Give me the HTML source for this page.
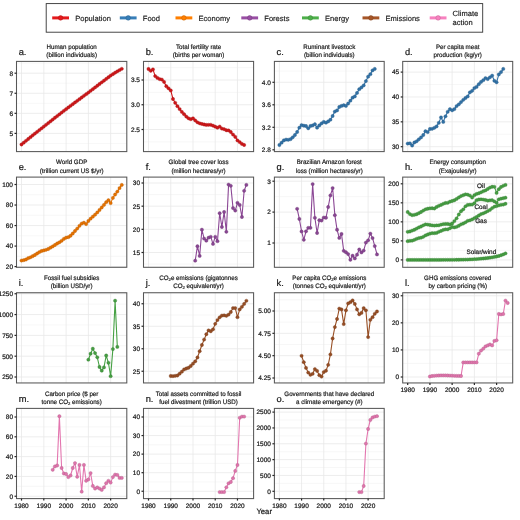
<!DOCTYPE html>
<html><head><meta charset="utf-8"><style>
html,body{margin:0;padding:0;background:#fff;width:520px;height:520px;overflow:hidden}
svg{display:block;will-change:transform}
text{font-family:"Liberation Sans", sans-serif;text-rendering:geometricPrecision;stroke:#1a1a1a;stroke-width:0.22px}
</style></head><body>
<svg width="520" height="520" viewBox="0 0 520 520" font-family='"Liberation Sans", sans-serif'>
<rect width="520" height="520" fill="#fff"/>
<rect x="46.2" y="3.6" width="436.5" height="28.6" fill="#fff" stroke="#333" stroke-width="0.9"/>
<line x1="52.2" y1="17.9" x2="69.0" y2="17.9" stroke="#E41A1C" stroke-width="3.0"/>
<circle cx="60.6" cy="17.9" r="2.3" fill="#E41A1C" stroke="#b11415" stroke-width="0.5"/>
<text x="75.2" y="20.7" font-size="7.55" fill="#1a1a1a" style="stroke-width:0.16px">Population</text>
<line x1="119.8" y1="17.9" x2="136.6" y2="17.9" stroke="#377EB8" stroke-width="3.0"/>
<circle cx="128.2" cy="17.9" r="2.3" fill="#377EB8" stroke="#2a628f" stroke-width="0.5"/>
<text x="142.8" y="20.7" font-size="7.55" fill="#1a1a1a" style="stroke-width:0.16px">Food</text>
<line x1="175.5" y1="17.9" x2="192.3" y2="17.9" stroke="#FF7F00" stroke-width="3.0"/>
<circle cx="183.9" cy="17.9" r="2.3" fill="#FF7F00" stroke="#c66300" stroke-width="0.5"/>
<text x="198.5" y="20.7" font-size="7.55" fill="#1a1a1a" style="stroke-width:0.16px">Economy</text>
<line x1="241.3" y1="17.9" x2="258.1" y2="17.9" stroke="#984EA3" stroke-width="3.0"/>
<circle cx="249.7" cy="17.9" r="2.3" fill="#984EA3" stroke="#763c7f" stroke-width="0.5"/>
<text x="264.3" y="20.7" font-size="7.55" fill="#1a1a1a" style="stroke-width:0.16px">Forests</text>
<line x1="302.0" y1="17.9" x2="318.8" y2="17.9" stroke="#4DAF4A" stroke-width="3.0"/>
<circle cx="310.4" cy="17.9" r="2.3" fill="#4DAF4A" stroke="#3c8839" stroke-width="0.5"/>
<text x="325.0" y="20.7" font-size="7.55" fill="#1a1a1a" style="stroke-width:0.16px">Energy</text>
<line x1="362.5" y1="17.9" x2="379.3" y2="17.9" stroke="#A65628" stroke-width="3.0"/>
<circle cx="370.9" cy="17.9" r="2.3" fill="#A65628" stroke="#81431f" stroke-width="0.5"/>
<text x="385.5" y="20.7" font-size="7.55" fill="#1a1a1a" style="stroke-width:0.16px">Emissions</text>
<line x1="429.7" y1="17.9" x2="446.5" y2="17.9" stroke="#F781BF" stroke-width="3.0"/>
<circle cx="438.1" cy="17.9" r="2.3" fill="#F781BF" stroke="#c06494" stroke-width="0.5"/>
<text x="452.6" y="16.2" font-size="7.55" fill="#1a1a1a" style="stroke-width:0.16px">Climate</text>
<text x="452.6" y="24.5" font-size="7.55" fill="#1a1a1a" style="stroke-width:0.16px">action</text>
<g>
<clipPath id="ca"><rect x="16.5" y="61.4" width="110.3" height="90.2"/></clipPath>
<line x1="16.5" y1="143.43" x2="126.8" y2="143.43" stroke="#f1f1f1" stroke-width="0.6"/>
<line x1="16.5" y1="123.37" x2="126.8" y2="123.37" stroke="#f1f1f1" stroke-width="0.6"/>
<line x1="16.5" y1="103.30" x2="126.8" y2="103.30" stroke="#f1f1f1" stroke-width="0.6"/>
<line x1="16.5" y1="83.23" x2="126.8" y2="83.23" stroke="#f1f1f1" stroke-width="0.6"/>
<line x1="16.5" y1="63.17" x2="126.8" y2="63.17" stroke="#f1f1f1" stroke-width="0.6"/>
<line x1="21.51" y1="61.4" x2="21.51" y2="151.60" stroke="#e9e9e9" stroke-width="0.8"/>
<line x1="43.80" y1="61.4" x2="43.80" y2="151.60" stroke="#e9e9e9" stroke-width="0.8"/>
<line x1="66.08" y1="61.4" x2="66.08" y2="151.60" stroke="#e9e9e9" stroke-width="0.8"/>
<line x1="88.36" y1="61.4" x2="88.36" y2="151.60" stroke="#e9e9e9" stroke-width="0.8"/>
<line x1="110.64" y1="61.4" x2="110.64" y2="151.60" stroke="#e9e9e9" stroke-width="0.8"/>
<line x1="16.5" y1="133.40" x2="126.8" y2="133.40" stroke="#e9e9e9" stroke-width="0.8"/>
<line x1="16.5" y1="113.33" x2="126.8" y2="113.33" stroke="#e9e9e9" stroke-width="0.8"/>
<line x1="16.5" y1="93.27" x2="126.8" y2="93.27" stroke="#e9e9e9" stroke-width="0.8"/>
<line x1="16.5" y1="73.20" x2="126.8" y2="73.20" stroke="#e9e9e9" stroke-width="0.8"/>
<g clip-path="url(#ca)">
<polyline points="21.51,144.49 23.74,142.66 25.97,140.84 28.20,139.01 30.43,137.18 32.66,135.36 34.88,133.61 37.11,131.86 39.34,130.10 41.57,128.35 43.80,126.60 46.02,124.84 48.25,123.07 50.48,121.30 52.71,119.54 54.94,117.77 57.17,116.04 59.39,114.32 61.62,112.59 63.85,110.86 66.08,109.14 68.31,107.47 70.54,105.80 72.76,104.13 74.99,102.46 77.22,100.78 79.45,99.14 81.68,97.49 83.91,95.85 86.13,94.20 88.36,92.55 90.59,90.85 92.82,89.14 95.05,87.43 97.28,85.73 99.50,84.02 101.73,82.33 103.96,80.64 106.19,78.95 108.42,77.26 110.64,75.57 112.87,74.14 115.10,72.71 117.33,71.35 119.56,70.08 121.79,68.81" fill="none" stroke="#d11719" stroke-width="1.1" stroke-linejoin="round"/>
<circle cx="21.51" cy="144.49" r="1.65" fill="#cd1719" stroke="#a41214" stroke-width="0.35"/>
<circle cx="23.74" cy="142.66" r="1.65" fill="#cd1719" stroke="#a41214" stroke-width="0.35"/>
<circle cx="25.97" cy="140.84" r="1.65" fill="#cd1719" stroke="#a41214" stroke-width="0.35"/>
<circle cx="28.20" cy="139.01" r="1.65" fill="#cd1719" stroke="#a41214" stroke-width="0.35"/>
<circle cx="30.43" cy="137.18" r="1.65" fill="#cd1719" stroke="#a41214" stroke-width="0.35"/>
<circle cx="32.66" cy="135.36" r="1.65" fill="#cd1719" stroke="#a41214" stroke-width="0.35"/>
<circle cx="34.88" cy="133.61" r="1.65" fill="#cd1719" stroke="#a41214" stroke-width="0.35"/>
<circle cx="37.11" cy="131.86" r="1.65" fill="#cd1719" stroke="#a41214" stroke-width="0.35"/>
<circle cx="39.34" cy="130.10" r="1.65" fill="#cd1719" stroke="#a41214" stroke-width="0.35"/>
<circle cx="41.57" cy="128.35" r="1.65" fill="#cd1719" stroke="#a41214" stroke-width="0.35"/>
<circle cx="43.80" cy="126.60" r="1.65" fill="#cd1719" stroke="#a41214" stroke-width="0.35"/>
<circle cx="46.02" cy="124.84" r="1.65" fill="#cd1719" stroke="#a41214" stroke-width="0.35"/>
<circle cx="48.25" cy="123.07" r="1.65" fill="#cd1719" stroke="#a41214" stroke-width="0.35"/>
<circle cx="50.48" cy="121.30" r="1.65" fill="#cd1719" stroke="#a41214" stroke-width="0.35"/>
<circle cx="52.71" cy="119.54" r="1.65" fill="#cd1719" stroke="#a41214" stroke-width="0.35"/>
<circle cx="54.94" cy="117.77" r="1.65" fill="#cd1719" stroke="#a41214" stroke-width="0.35"/>
<circle cx="57.17" cy="116.04" r="1.65" fill="#cd1719" stroke="#a41214" stroke-width="0.35"/>
<circle cx="59.39" cy="114.32" r="1.65" fill="#cd1719" stroke="#a41214" stroke-width="0.35"/>
<circle cx="61.62" cy="112.59" r="1.65" fill="#cd1719" stroke="#a41214" stroke-width="0.35"/>
<circle cx="63.85" cy="110.86" r="1.65" fill="#cd1719" stroke="#a41214" stroke-width="0.35"/>
<circle cx="66.08" cy="109.14" r="1.65" fill="#cd1719" stroke="#a41214" stroke-width="0.35"/>
<circle cx="68.31" cy="107.47" r="1.65" fill="#cd1719" stroke="#a41214" stroke-width="0.35"/>
<circle cx="70.54" cy="105.80" r="1.65" fill="#cd1719" stroke="#a41214" stroke-width="0.35"/>
<circle cx="72.76" cy="104.13" r="1.65" fill="#cd1719" stroke="#a41214" stroke-width="0.35"/>
<circle cx="74.99" cy="102.46" r="1.65" fill="#cd1719" stroke="#a41214" stroke-width="0.35"/>
<circle cx="77.22" cy="100.78" r="1.65" fill="#cd1719" stroke="#a41214" stroke-width="0.35"/>
<circle cx="79.45" cy="99.14" r="1.65" fill="#cd1719" stroke="#a41214" stroke-width="0.35"/>
<circle cx="81.68" cy="97.49" r="1.65" fill="#cd1719" stroke="#a41214" stroke-width="0.35"/>
<circle cx="83.91" cy="95.85" r="1.65" fill="#cd1719" stroke="#a41214" stroke-width="0.35"/>
<circle cx="86.13" cy="94.20" r="1.65" fill="#cd1719" stroke="#a41214" stroke-width="0.35"/>
<circle cx="88.36" cy="92.55" r="1.65" fill="#cd1719" stroke="#a41214" stroke-width="0.35"/>
<circle cx="90.59" cy="90.85" r="1.65" fill="#cd1719" stroke="#a41214" stroke-width="0.35"/>
<circle cx="92.82" cy="89.14" r="1.65" fill="#cd1719" stroke="#a41214" stroke-width="0.35"/>
<circle cx="95.05" cy="87.43" r="1.65" fill="#cd1719" stroke="#a41214" stroke-width="0.35"/>
<circle cx="97.28" cy="85.73" r="1.65" fill="#cd1719" stroke="#a41214" stroke-width="0.35"/>
<circle cx="99.50" cy="84.02" r="1.65" fill="#cd1719" stroke="#a41214" stroke-width="0.35"/>
<circle cx="101.73" cy="82.33" r="1.65" fill="#cd1719" stroke="#a41214" stroke-width="0.35"/>
<circle cx="103.96" cy="80.64" r="1.65" fill="#cd1719" stroke="#a41214" stroke-width="0.35"/>
<circle cx="106.19" cy="78.95" r="1.65" fill="#cd1719" stroke="#a41214" stroke-width="0.35"/>
<circle cx="108.42" cy="77.26" r="1.65" fill="#cd1719" stroke="#a41214" stroke-width="0.35"/>
<circle cx="110.64" cy="75.57" r="1.65" fill="#cd1719" stroke="#a41214" stroke-width="0.35"/>
<circle cx="112.87" cy="74.14" r="1.65" fill="#cd1719" stroke="#a41214" stroke-width="0.35"/>
<circle cx="115.10" cy="72.71" r="1.65" fill="#cd1719" stroke="#a41214" stroke-width="0.35"/>
<circle cx="117.33" cy="71.35" r="1.65" fill="#cd1719" stroke="#a41214" stroke-width="0.35"/>
<circle cx="119.56" cy="70.08" r="1.65" fill="#cd1719" stroke="#a41214" stroke-width="0.35"/>
<circle cx="121.79" cy="68.81" r="1.65" fill="#cd1719" stroke="#a41214" stroke-width="0.35"/>
</g>
<rect x="16.5" y="61.4" width="110.30" height="90.2" fill="none" stroke="#575757" stroke-width="1.05"/>
<line x1="14.50" y1="133.40" x2="16.5" y2="133.40" stroke="#262626" stroke-width="1.2"/>
<text x="13.00" y="135.75" font-size="6.5" fill="#1a1a1a" text-anchor="end">5</text>
<line x1="14.50" y1="113.33" x2="16.5" y2="113.33" stroke="#262626" stroke-width="1.2"/>
<text x="13.00" y="115.68" font-size="6.5" fill="#1a1a1a" text-anchor="end">6</text>
<line x1="14.50" y1="93.27" x2="16.5" y2="93.27" stroke="#262626" stroke-width="1.2"/>
<text x="13.00" y="95.62" font-size="6.5" fill="#1a1a1a" text-anchor="end">7</text>
<line x1="14.50" y1="73.20" x2="16.5" y2="73.20" stroke="#262626" stroke-width="1.2"/>
<text x="13.00" y="75.55" font-size="6.5" fill="#1a1a1a" text-anchor="end">8</text>
<g transform="translate(71.65,0) scale(0.97,1) translate(-71.65,0)">
<text x="71.65" y="48.50" font-size="6.4" fill="#1a1a1a" style="stroke-width:0.2px" text-anchor="middle">Human population</text>
<text x="71.65" y="56.80" font-size="6.4" fill="#1a1a1a" style="stroke-width:0.2px" text-anchor="middle">(billion individuals)</text>
</g>
<text x="18.70" y="54.50" font-size="9.3" fill="#1a1a1a">a.</text>
</g>
<g>
<clipPath id="cb"><rect x="143.5" y="61.4" width="110.1" height="90.2"/></clipPath>
<line x1="143.5" y1="141.88" x2="253.6" y2="141.88" stroke="#f1f1f1" stroke-width="0.6"/>
<line x1="143.5" y1="117.12" x2="253.6" y2="117.12" stroke="#f1f1f1" stroke-width="0.6"/>
<line x1="143.5" y1="92.38" x2="253.6" y2="92.38" stroke="#f1f1f1" stroke-width="0.6"/>
<line x1="143.5" y1="67.62" x2="253.6" y2="67.62" stroke="#f1f1f1" stroke-width="0.6"/>
<line x1="148.50" y1="61.4" x2="148.50" y2="151.60" stroke="#e9e9e9" stroke-width="0.8"/>
<line x1="170.75" y1="61.4" x2="170.75" y2="151.60" stroke="#e9e9e9" stroke-width="0.8"/>
<line x1="192.99" y1="61.4" x2="192.99" y2="151.60" stroke="#e9e9e9" stroke-width="0.8"/>
<line x1="215.23" y1="61.4" x2="215.23" y2="151.60" stroke="#e9e9e9" stroke-width="0.8"/>
<line x1="237.47" y1="61.4" x2="237.47" y2="151.60" stroke="#e9e9e9" stroke-width="0.8"/>
<line x1="143.5" y1="129.50" x2="253.6" y2="129.50" stroke="#e9e9e9" stroke-width="0.8"/>
<line x1="143.5" y1="104.75" x2="253.6" y2="104.75" stroke="#e9e9e9" stroke-width="0.8"/>
<line x1="143.5" y1="80.00" x2="253.6" y2="80.00" stroke="#e9e9e9" stroke-width="0.8"/>
<g clip-path="url(#cb)">
<polyline points="148.50,69.00 150.73,70.80 152.95,69.40 155.18,76.10 157.40,77.90 159.63,79.10 161.85,79.60 164.07,81.90 166.30,86.17 168.52,88.28 170.75,90.40 172.97,99.00 175.20,102.80 177.42,106.20 179.64,109.10 181.87,111.90 184.09,114.20 186.32,116.60 188.54,118.30 190.77,119.20 192.99,118.30 195.21,120.40 197.44,122.30 199.66,123.30 201.89,123.95 204.11,124.50 206.33,124.90 208.56,124.86 210.78,124.80 213.01,125.66 215.23,126.70 217.46,127.70 219.68,126.60 221.90,128.60 224.13,129.20 226.35,130.24 228.58,130.47 230.80,132.00 233.03,134.60 235.25,136.90 237.47,140.40 239.70,142.10 241.92,143.90 244.15,145.00" fill="none" stroke="#d11719" stroke-width="1.1" stroke-linejoin="round"/>
<circle cx="148.50" cy="69.00" r="1.65" fill="#cd1719" stroke="#a41214" stroke-width="0.35"/>
<circle cx="150.73" cy="70.80" r="1.65" fill="#cd1719" stroke="#a41214" stroke-width="0.35"/>
<circle cx="152.95" cy="69.40" r="1.65" fill="#cd1719" stroke="#a41214" stroke-width="0.35"/>
<circle cx="155.18" cy="76.10" r="1.65" fill="#cd1719" stroke="#a41214" stroke-width="0.35"/>
<circle cx="157.40" cy="77.90" r="1.65" fill="#cd1719" stroke="#a41214" stroke-width="0.35"/>
<circle cx="159.63" cy="79.10" r="1.65" fill="#cd1719" stroke="#a41214" stroke-width="0.35"/>
<circle cx="161.85" cy="79.60" r="1.65" fill="#cd1719" stroke="#a41214" stroke-width="0.35"/>
<circle cx="164.07" cy="81.90" r="1.65" fill="#cd1719" stroke="#a41214" stroke-width="0.35"/>
<circle cx="166.30" cy="86.17" r="1.65" fill="#cd1719" stroke="#a41214" stroke-width="0.35"/>
<circle cx="168.52" cy="88.28" r="1.65" fill="#cd1719" stroke="#a41214" stroke-width="0.35"/>
<circle cx="170.75" cy="90.40" r="1.65" fill="#cd1719" stroke="#a41214" stroke-width="0.35"/>
<circle cx="172.97" cy="99.00" r="1.65" fill="#cd1719" stroke="#a41214" stroke-width="0.35"/>
<circle cx="175.20" cy="102.80" r="1.65" fill="#cd1719" stroke="#a41214" stroke-width="0.35"/>
<circle cx="177.42" cy="106.20" r="1.65" fill="#cd1719" stroke="#a41214" stroke-width="0.35"/>
<circle cx="179.64" cy="109.10" r="1.65" fill="#cd1719" stroke="#a41214" stroke-width="0.35"/>
<circle cx="181.87" cy="111.90" r="1.65" fill="#cd1719" stroke="#a41214" stroke-width="0.35"/>
<circle cx="184.09" cy="114.20" r="1.65" fill="#cd1719" stroke="#a41214" stroke-width="0.35"/>
<circle cx="186.32" cy="116.60" r="1.65" fill="#cd1719" stroke="#a41214" stroke-width="0.35"/>
<circle cx="188.54" cy="118.30" r="1.65" fill="#cd1719" stroke="#a41214" stroke-width="0.35"/>
<circle cx="190.77" cy="119.20" r="1.65" fill="#cd1719" stroke="#a41214" stroke-width="0.35"/>
<circle cx="192.99" cy="118.30" r="1.65" fill="#cd1719" stroke="#a41214" stroke-width="0.35"/>
<circle cx="195.21" cy="120.40" r="1.65" fill="#cd1719" stroke="#a41214" stroke-width="0.35"/>
<circle cx="197.44" cy="122.30" r="1.65" fill="#cd1719" stroke="#a41214" stroke-width="0.35"/>
<circle cx="199.66" cy="123.30" r="1.65" fill="#cd1719" stroke="#a41214" stroke-width="0.35"/>
<circle cx="201.89" cy="123.95" r="1.65" fill="#cd1719" stroke="#a41214" stroke-width="0.35"/>
<circle cx="204.11" cy="124.50" r="1.65" fill="#cd1719" stroke="#a41214" stroke-width="0.35"/>
<circle cx="206.33" cy="124.90" r="1.65" fill="#cd1719" stroke="#a41214" stroke-width="0.35"/>
<circle cx="208.56" cy="124.86" r="1.65" fill="#cd1719" stroke="#a41214" stroke-width="0.35"/>
<circle cx="210.78" cy="124.80" r="1.65" fill="#cd1719" stroke="#a41214" stroke-width="0.35"/>
<circle cx="213.01" cy="125.66" r="1.65" fill="#cd1719" stroke="#a41214" stroke-width="0.35"/>
<circle cx="215.23" cy="126.70" r="1.65" fill="#cd1719" stroke="#a41214" stroke-width="0.35"/>
<circle cx="217.46" cy="127.70" r="1.65" fill="#cd1719" stroke="#a41214" stroke-width="0.35"/>
<circle cx="219.68" cy="126.60" r="1.65" fill="#cd1719" stroke="#a41214" stroke-width="0.35"/>
<circle cx="221.90" cy="128.60" r="1.65" fill="#cd1719" stroke="#a41214" stroke-width="0.35"/>
<circle cx="224.13" cy="129.20" r="1.65" fill="#cd1719" stroke="#a41214" stroke-width="0.35"/>
<circle cx="226.35" cy="130.24" r="1.65" fill="#cd1719" stroke="#a41214" stroke-width="0.35"/>
<circle cx="228.58" cy="130.47" r="1.65" fill="#cd1719" stroke="#a41214" stroke-width="0.35"/>
<circle cx="230.80" cy="132.00" r="1.65" fill="#cd1719" stroke="#a41214" stroke-width="0.35"/>
<circle cx="233.03" cy="134.60" r="1.65" fill="#cd1719" stroke="#a41214" stroke-width="0.35"/>
<circle cx="235.25" cy="136.90" r="1.65" fill="#cd1719" stroke="#a41214" stroke-width="0.35"/>
<circle cx="237.47" cy="140.40" r="1.65" fill="#cd1719" stroke="#a41214" stroke-width="0.35"/>
<circle cx="239.70" cy="142.10" r="1.65" fill="#cd1719" stroke="#a41214" stroke-width="0.35"/>
<circle cx="241.92" cy="143.90" r="1.65" fill="#cd1719" stroke="#a41214" stroke-width="0.35"/>
<circle cx="244.15" cy="145.00" r="1.65" fill="#cd1719" stroke="#a41214" stroke-width="0.35"/>
</g>
<rect x="143.5" y="61.4" width="110.10" height="90.2" fill="none" stroke="#575757" stroke-width="1.05"/>
<line x1="141.50" y1="129.50" x2="143.5" y2="129.50" stroke="#262626" stroke-width="1.2"/>
<text x="140.00" y="131.85" font-size="6.5" fill="#1a1a1a" text-anchor="end">2.5</text>
<line x1="141.50" y1="104.75" x2="143.5" y2="104.75" stroke="#262626" stroke-width="1.2"/>
<text x="140.00" y="107.10" font-size="6.5" fill="#1a1a1a" text-anchor="end">3.0</text>
<line x1="141.50" y1="80.00" x2="143.5" y2="80.00" stroke="#262626" stroke-width="1.2"/>
<text x="140.00" y="82.35" font-size="6.5" fill="#1a1a1a" text-anchor="end">3.5</text>
<g transform="translate(198.55,0) scale(0.97,1) translate(-198.55,0)">
<text x="198.55" y="48.50" font-size="6.4" fill="#1a1a1a" style="stroke-width:0.2px" text-anchor="middle">Total fertility rate</text>
<text x="198.55" y="56.80" font-size="6.4" fill="#1a1a1a" style="stroke-width:0.2px" text-anchor="middle">(births per woman)</text>
</g>
<text x="145.70" y="54.50" font-size="9.3" fill="#1a1a1a">b.</text>
</g>
<g>
<clipPath id="cc"><rect x="274.4" y="61.4" width="109.80000000000001" height="90.2"/></clipPath>
<line x1="274.4" y1="138.55" x2="384.2" y2="138.55" stroke="#f1f1f1" stroke-width="0.6"/>
<line x1="274.4" y1="116.05" x2="384.2" y2="116.05" stroke="#f1f1f1" stroke-width="0.6"/>
<line x1="274.4" y1="93.55" x2="384.2" y2="93.55" stroke="#f1f1f1" stroke-width="0.6"/>
<line x1="274.4" y1="71.05" x2="384.2" y2="71.05" stroke="#f1f1f1" stroke-width="0.6"/>
<line x1="279.39" y1="61.4" x2="279.39" y2="151.60" stroke="#e9e9e9" stroke-width="0.8"/>
<line x1="301.57" y1="61.4" x2="301.57" y2="151.60" stroke="#e9e9e9" stroke-width="0.8"/>
<line x1="323.75" y1="61.4" x2="323.75" y2="151.60" stroke="#e9e9e9" stroke-width="0.8"/>
<line x1="345.94" y1="61.4" x2="345.94" y2="151.60" stroke="#e9e9e9" stroke-width="0.8"/>
<line x1="368.12" y1="61.4" x2="368.12" y2="151.60" stroke="#e9e9e9" stroke-width="0.8"/>
<line x1="274.4" y1="149.80" x2="384.2" y2="149.80" stroke="#e9e9e9" stroke-width="0.8"/>
<line x1="274.4" y1="127.30" x2="384.2" y2="127.30" stroke="#e9e9e9" stroke-width="0.8"/>
<line x1="274.4" y1="104.80" x2="384.2" y2="104.80" stroke="#e9e9e9" stroke-width="0.8"/>
<line x1="274.4" y1="82.30" x2="384.2" y2="82.30" stroke="#e9e9e9" stroke-width="0.8"/>
<g clip-path="url(#cc)">
<polyline points="279.39,145.00 281.61,142.70 283.83,140.40 286.05,139.60 288.26,139.80 290.48,139.20 292.70,137.30 294.92,135.00 297.14,132.00 299.35,127.70 301.57,125.10 303.79,125.70 306.01,126.00 308.23,128.30 310.45,126.00 312.66,125.40 314.88,124.20 317.10,127.70 319.32,125.40 321.54,123.40 323.75,121.90 325.97,122.70 328.19,121.40 330.41,119.70 332.63,116.00 334.85,111.60 337.06,110.40 339.28,107.00 341.50,105.90 343.72,105.20 345.94,105.90 348.15,103.50 350.37,100.70 352.59,97.70 354.81,96.40 357.03,92.90 359.25,89.20 361.46,87.40 363.68,85.40 365.90,81.10 368.12,76.70 370.34,74.20 372.55,70.40 374.77,68.90" fill="none" stroke="#3273a9" stroke-width="1.1" stroke-linejoin="round"/>
<circle cx="279.39" cy="145.00" r="1.65" fill="#3171a5" stroke="#275a84" stroke-width="0.35"/>
<circle cx="281.61" cy="142.70" r="1.65" fill="#3171a5" stroke="#275a84" stroke-width="0.35"/>
<circle cx="283.83" cy="140.40" r="1.65" fill="#3171a5" stroke="#275a84" stroke-width="0.35"/>
<circle cx="286.05" cy="139.60" r="1.65" fill="#3171a5" stroke="#275a84" stroke-width="0.35"/>
<circle cx="288.26" cy="139.80" r="1.65" fill="#3171a5" stroke="#275a84" stroke-width="0.35"/>
<circle cx="290.48" cy="139.20" r="1.65" fill="#3171a5" stroke="#275a84" stroke-width="0.35"/>
<circle cx="292.70" cy="137.30" r="1.65" fill="#3171a5" stroke="#275a84" stroke-width="0.35"/>
<circle cx="294.92" cy="135.00" r="1.65" fill="#3171a5" stroke="#275a84" stroke-width="0.35"/>
<circle cx="297.14" cy="132.00" r="1.65" fill="#3171a5" stroke="#275a84" stroke-width="0.35"/>
<circle cx="299.35" cy="127.70" r="1.65" fill="#3171a5" stroke="#275a84" stroke-width="0.35"/>
<circle cx="301.57" cy="125.10" r="1.65" fill="#3171a5" stroke="#275a84" stroke-width="0.35"/>
<circle cx="303.79" cy="125.70" r="1.65" fill="#3171a5" stroke="#275a84" stroke-width="0.35"/>
<circle cx="306.01" cy="126.00" r="1.65" fill="#3171a5" stroke="#275a84" stroke-width="0.35"/>
<circle cx="308.23" cy="128.30" r="1.65" fill="#3171a5" stroke="#275a84" stroke-width="0.35"/>
<circle cx="310.45" cy="126.00" r="1.65" fill="#3171a5" stroke="#275a84" stroke-width="0.35"/>
<circle cx="312.66" cy="125.40" r="1.65" fill="#3171a5" stroke="#275a84" stroke-width="0.35"/>
<circle cx="314.88" cy="124.20" r="1.65" fill="#3171a5" stroke="#275a84" stroke-width="0.35"/>
<circle cx="317.10" cy="127.70" r="1.65" fill="#3171a5" stroke="#275a84" stroke-width="0.35"/>
<circle cx="319.32" cy="125.40" r="1.65" fill="#3171a5" stroke="#275a84" stroke-width="0.35"/>
<circle cx="321.54" cy="123.40" r="1.65" fill="#3171a5" stroke="#275a84" stroke-width="0.35"/>
<circle cx="323.75" cy="121.90" r="1.65" fill="#3171a5" stroke="#275a84" stroke-width="0.35"/>
<circle cx="325.97" cy="122.70" r="1.65" fill="#3171a5" stroke="#275a84" stroke-width="0.35"/>
<circle cx="328.19" cy="121.40" r="1.65" fill="#3171a5" stroke="#275a84" stroke-width="0.35"/>
<circle cx="330.41" cy="119.70" r="1.65" fill="#3171a5" stroke="#275a84" stroke-width="0.35"/>
<circle cx="332.63" cy="116.00" r="1.65" fill="#3171a5" stroke="#275a84" stroke-width="0.35"/>
<circle cx="334.85" cy="111.60" r="1.65" fill="#3171a5" stroke="#275a84" stroke-width="0.35"/>
<circle cx="337.06" cy="110.40" r="1.65" fill="#3171a5" stroke="#275a84" stroke-width="0.35"/>
<circle cx="339.28" cy="107.00" r="1.65" fill="#3171a5" stroke="#275a84" stroke-width="0.35"/>
<circle cx="341.50" cy="105.90" r="1.65" fill="#3171a5" stroke="#275a84" stroke-width="0.35"/>
<circle cx="343.72" cy="105.20" r="1.65" fill="#3171a5" stroke="#275a84" stroke-width="0.35"/>
<circle cx="345.94" cy="105.90" r="1.65" fill="#3171a5" stroke="#275a84" stroke-width="0.35"/>
<circle cx="348.15" cy="103.50" r="1.65" fill="#3171a5" stroke="#275a84" stroke-width="0.35"/>
<circle cx="350.37" cy="100.70" r="1.65" fill="#3171a5" stroke="#275a84" stroke-width="0.35"/>
<circle cx="352.59" cy="97.70" r="1.65" fill="#3171a5" stroke="#275a84" stroke-width="0.35"/>
<circle cx="354.81" cy="96.40" r="1.65" fill="#3171a5" stroke="#275a84" stroke-width="0.35"/>
<circle cx="357.03" cy="92.90" r="1.65" fill="#3171a5" stroke="#275a84" stroke-width="0.35"/>
<circle cx="359.25" cy="89.20" r="1.65" fill="#3171a5" stroke="#275a84" stroke-width="0.35"/>
<circle cx="361.46" cy="87.40" r="1.65" fill="#3171a5" stroke="#275a84" stroke-width="0.35"/>
<circle cx="363.68" cy="85.40" r="1.65" fill="#3171a5" stroke="#275a84" stroke-width="0.35"/>
<circle cx="365.90" cy="81.10" r="1.65" fill="#3171a5" stroke="#275a84" stroke-width="0.35"/>
<circle cx="368.12" cy="76.70" r="1.65" fill="#3171a5" stroke="#275a84" stroke-width="0.35"/>
<circle cx="370.34" cy="74.20" r="1.65" fill="#3171a5" stroke="#275a84" stroke-width="0.35"/>
<circle cx="372.55" cy="70.40" r="1.65" fill="#3171a5" stroke="#275a84" stroke-width="0.35"/>
<circle cx="374.77" cy="68.90" r="1.65" fill="#3171a5" stroke="#275a84" stroke-width="0.35"/>
</g>
<rect x="274.4" y="61.4" width="109.80" height="90.2" fill="none" stroke="#575757" stroke-width="1.05"/>
<line x1="272.40" y1="149.80" x2="274.4" y2="149.80" stroke="#262626" stroke-width="1.2"/>
<text x="270.90" y="152.15" font-size="6.5" fill="#1a1a1a" text-anchor="end">2.8</text>
<line x1="272.40" y1="127.30" x2="274.4" y2="127.30" stroke="#262626" stroke-width="1.2"/>
<text x="270.90" y="129.65" font-size="6.5" fill="#1a1a1a" text-anchor="end">3.2</text>
<line x1="272.40" y1="104.80" x2="274.4" y2="104.80" stroke="#262626" stroke-width="1.2"/>
<text x="270.90" y="107.15" font-size="6.5" fill="#1a1a1a" text-anchor="end">3.6</text>
<line x1="272.40" y1="82.30" x2="274.4" y2="82.30" stroke="#262626" stroke-width="1.2"/>
<text x="270.90" y="84.65" font-size="6.5" fill="#1a1a1a" text-anchor="end">4.0</text>
<g transform="translate(329.30,0) scale(0.97,1) translate(-329.30,0)">
<text x="329.30" y="48.50" font-size="6.4" fill="#1a1a1a" style="stroke-width:0.2px" text-anchor="middle">Ruminant livestock</text>
<text x="329.30" y="56.80" font-size="6.4" fill="#1a1a1a" style="stroke-width:0.2px" text-anchor="middle">(billion individuals)</text>
</g>
<text x="276.60" y="54.50" font-size="9.3" fill="#1a1a1a">c.</text>
</g>
<g>
<clipPath id="cd"><rect x="402.7" y="61.4" width="110.00000000000006" height="90.2"/></clipPath>
<line x1="402.7" y1="134.27" x2="512.7" y2="134.27" stroke="#f1f1f1" stroke-width="0.6"/>
<line x1="402.7" y1="109.40" x2="512.7" y2="109.40" stroke="#f1f1f1" stroke-width="0.6"/>
<line x1="402.7" y1="84.53" x2="512.7" y2="84.53" stroke="#f1f1f1" stroke-width="0.6"/>
<line x1="407.70" y1="61.4" x2="407.70" y2="151.60" stroke="#e9e9e9" stroke-width="0.8"/>
<line x1="429.92" y1="61.4" x2="429.92" y2="151.60" stroke="#e9e9e9" stroke-width="0.8"/>
<line x1="452.14" y1="61.4" x2="452.14" y2="151.60" stroke="#e9e9e9" stroke-width="0.8"/>
<line x1="474.37" y1="61.4" x2="474.37" y2="151.60" stroke="#e9e9e9" stroke-width="0.8"/>
<line x1="496.59" y1="61.4" x2="496.59" y2="151.60" stroke="#e9e9e9" stroke-width="0.8"/>
<line x1="402.7" y1="146.70" x2="512.7" y2="146.70" stroke="#e9e9e9" stroke-width="0.8"/>
<line x1="402.7" y1="121.83" x2="512.7" y2="121.83" stroke="#e9e9e9" stroke-width="0.8"/>
<line x1="402.7" y1="96.97" x2="512.7" y2="96.97" stroke="#e9e9e9" stroke-width="0.8"/>
<line x1="402.7" y1="72.10" x2="512.7" y2="72.10" stroke="#e9e9e9" stroke-width="0.8"/>
<g clip-path="url(#cd)">
<polyline points="407.70,143.58 409.92,143.30 412.14,145.50 414.37,142.50 416.59,141.30 418.81,139.30 421.03,137.40 423.26,135.00 425.48,131.20 427.70,132.10 429.92,129.00 432.14,128.80 434.37,127.80 436.59,126.40 438.81,122.80 441.03,117.40 443.26,121.90 445.48,116.30 447.70,111.80 449.92,109.10 452.14,110.30 454.37,109.10 456.59,106.10 458.81,104.30 461.03,102.10 463.26,99.84 465.48,98.02 467.70,96.40 469.92,92.30 472.14,90.80 474.37,88.10 476.59,86.90 478.81,84.20 481.03,81.90 483.26,80.20 485.48,78.10 487.70,79.10 489.92,77.30 492.14,75.60 494.37,80.80 496.59,82.30 498.81,74.40 501.03,72.10 503.26,68.90" fill="none" stroke="#3273a9" stroke-width="1.1" stroke-linejoin="round"/>
<circle cx="407.70" cy="143.58" r="1.65" fill="#3171a5" stroke="#275a84" stroke-width="0.35"/>
<circle cx="409.92" cy="143.30" r="1.65" fill="#3171a5" stroke="#275a84" stroke-width="0.35"/>
<circle cx="412.14" cy="145.50" r="1.65" fill="#3171a5" stroke="#275a84" stroke-width="0.35"/>
<circle cx="414.37" cy="142.50" r="1.65" fill="#3171a5" stroke="#275a84" stroke-width="0.35"/>
<circle cx="416.59" cy="141.30" r="1.65" fill="#3171a5" stroke="#275a84" stroke-width="0.35"/>
<circle cx="418.81" cy="139.30" r="1.65" fill="#3171a5" stroke="#275a84" stroke-width="0.35"/>
<circle cx="421.03" cy="137.40" r="1.65" fill="#3171a5" stroke="#275a84" stroke-width="0.35"/>
<circle cx="423.26" cy="135.00" r="1.65" fill="#3171a5" stroke="#275a84" stroke-width="0.35"/>
<circle cx="425.48" cy="131.20" r="1.65" fill="#3171a5" stroke="#275a84" stroke-width="0.35"/>
<circle cx="427.70" cy="132.10" r="1.65" fill="#3171a5" stroke="#275a84" stroke-width="0.35"/>
<circle cx="429.92" cy="129.00" r="1.65" fill="#3171a5" stroke="#275a84" stroke-width="0.35"/>
<circle cx="432.14" cy="128.80" r="1.65" fill="#3171a5" stroke="#275a84" stroke-width="0.35"/>
<circle cx="434.37" cy="127.80" r="1.65" fill="#3171a5" stroke="#275a84" stroke-width="0.35"/>
<circle cx="436.59" cy="126.40" r="1.65" fill="#3171a5" stroke="#275a84" stroke-width="0.35"/>
<circle cx="438.81" cy="122.80" r="1.65" fill="#3171a5" stroke="#275a84" stroke-width="0.35"/>
<circle cx="441.03" cy="117.40" r="1.65" fill="#3171a5" stroke="#275a84" stroke-width="0.35"/>
<circle cx="443.26" cy="121.90" r="1.65" fill="#3171a5" stroke="#275a84" stroke-width="0.35"/>
<circle cx="445.48" cy="116.30" r="1.65" fill="#3171a5" stroke="#275a84" stroke-width="0.35"/>
<circle cx="447.70" cy="111.80" r="1.65" fill="#3171a5" stroke="#275a84" stroke-width="0.35"/>
<circle cx="449.92" cy="109.10" r="1.65" fill="#3171a5" stroke="#275a84" stroke-width="0.35"/>
<circle cx="452.14" cy="110.30" r="1.65" fill="#3171a5" stroke="#275a84" stroke-width="0.35"/>
<circle cx="454.37" cy="109.10" r="1.65" fill="#3171a5" stroke="#275a84" stroke-width="0.35"/>
<circle cx="456.59" cy="106.10" r="1.65" fill="#3171a5" stroke="#275a84" stroke-width="0.35"/>
<circle cx="458.81" cy="104.30" r="1.65" fill="#3171a5" stroke="#275a84" stroke-width="0.35"/>
<circle cx="461.03" cy="102.10" r="1.65" fill="#3171a5" stroke="#275a84" stroke-width="0.35"/>
<circle cx="463.26" cy="99.84" r="1.65" fill="#3171a5" stroke="#275a84" stroke-width="0.35"/>
<circle cx="465.48" cy="98.02" r="1.65" fill="#3171a5" stroke="#275a84" stroke-width="0.35"/>
<circle cx="467.70" cy="96.40" r="1.65" fill="#3171a5" stroke="#275a84" stroke-width="0.35"/>
<circle cx="469.92" cy="92.30" r="1.65" fill="#3171a5" stroke="#275a84" stroke-width="0.35"/>
<circle cx="472.14" cy="90.80" r="1.65" fill="#3171a5" stroke="#275a84" stroke-width="0.35"/>
<circle cx="474.37" cy="88.10" r="1.65" fill="#3171a5" stroke="#275a84" stroke-width="0.35"/>
<circle cx="476.59" cy="86.90" r="1.65" fill="#3171a5" stroke="#275a84" stroke-width="0.35"/>
<circle cx="478.81" cy="84.20" r="1.65" fill="#3171a5" stroke="#275a84" stroke-width="0.35"/>
<circle cx="481.03" cy="81.90" r="1.65" fill="#3171a5" stroke="#275a84" stroke-width="0.35"/>
<circle cx="483.26" cy="80.20" r="1.65" fill="#3171a5" stroke="#275a84" stroke-width="0.35"/>
<circle cx="485.48" cy="78.10" r="1.65" fill="#3171a5" stroke="#275a84" stroke-width="0.35"/>
<circle cx="487.70" cy="79.10" r="1.65" fill="#3171a5" stroke="#275a84" stroke-width="0.35"/>
<circle cx="489.92" cy="77.30" r="1.65" fill="#3171a5" stroke="#275a84" stroke-width="0.35"/>
<circle cx="492.14" cy="75.60" r="1.65" fill="#3171a5" stroke="#275a84" stroke-width="0.35"/>
<circle cx="494.37" cy="80.80" r="1.65" fill="#3171a5" stroke="#275a84" stroke-width="0.35"/>
<circle cx="496.59" cy="82.30" r="1.65" fill="#3171a5" stroke="#275a84" stroke-width="0.35"/>
<circle cx="498.81" cy="74.40" r="1.65" fill="#3171a5" stroke="#275a84" stroke-width="0.35"/>
<circle cx="501.03" cy="72.10" r="1.65" fill="#3171a5" stroke="#275a84" stroke-width="0.35"/>
<circle cx="503.26" cy="68.90" r="1.65" fill="#3171a5" stroke="#275a84" stroke-width="0.35"/>
</g>
<rect x="402.7" y="61.4" width="110.00" height="90.2" fill="none" stroke="#575757" stroke-width="1.05"/>
<line x1="400.70" y1="146.70" x2="402.7" y2="146.70" stroke="#262626" stroke-width="1.2"/>
<text x="399.20" y="149.05" font-size="6.5" fill="#1a1a1a" text-anchor="end">30</text>
<line x1="400.70" y1="121.83" x2="402.7" y2="121.83" stroke="#262626" stroke-width="1.2"/>
<text x="399.20" y="124.18" font-size="6.5" fill="#1a1a1a" text-anchor="end">35</text>
<line x1="400.70" y1="96.97" x2="402.7" y2="96.97" stroke="#262626" stroke-width="1.2"/>
<text x="399.20" y="99.32" font-size="6.5" fill="#1a1a1a" text-anchor="end">40</text>
<line x1="400.70" y1="72.10" x2="402.7" y2="72.10" stroke="#262626" stroke-width="1.2"/>
<text x="399.20" y="74.45" font-size="6.5" fill="#1a1a1a" text-anchor="end">45</text>
<g transform="translate(457.70,0) scale(0.97,1) translate(-457.70,0)">
<text x="457.70" y="48.50" font-size="6.4" fill="#1a1a1a" style="stroke-width:0.2px" text-anchor="middle">Per capita meat</text>
<text x="457.70" y="56.80" font-size="6.4" fill="#1a1a1a" style="stroke-width:0.2px" text-anchor="middle">production (kg/yr)</text>
</g>
<text x="404.90" y="54.50" font-size="9.3" fill="#1a1a1a">d.</text>
</g>
<g>
<clipPath id="ce"><rect x="16.5" y="177.1" width="110.3" height="90.2"/></clipPath>
<line x1="16.5" y1="256.34" x2="126.8" y2="256.34" stroke="#f1f1f1" stroke-width="0.6"/>
<line x1="16.5" y1="235.81" x2="126.8" y2="235.81" stroke="#f1f1f1" stroke-width="0.6"/>
<line x1="16.5" y1="215.29" x2="126.8" y2="215.29" stroke="#f1f1f1" stroke-width="0.6"/>
<line x1="16.5" y1="194.76" x2="126.8" y2="194.76" stroke="#f1f1f1" stroke-width="0.6"/>
<line x1="21.51" y1="177.1" x2="21.51" y2="267.30" stroke="#e9e9e9" stroke-width="0.8"/>
<line x1="43.80" y1="177.1" x2="43.80" y2="267.30" stroke="#e9e9e9" stroke-width="0.8"/>
<line x1="66.08" y1="177.1" x2="66.08" y2="267.30" stroke="#e9e9e9" stroke-width="0.8"/>
<line x1="88.36" y1="177.1" x2="88.36" y2="267.30" stroke="#e9e9e9" stroke-width="0.8"/>
<line x1="110.64" y1="177.1" x2="110.64" y2="267.30" stroke="#e9e9e9" stroke-width="0.8"/>
<line x1="16.5" y1="266.60" x2="126.8" y2="266.60" stroke="#e9e9e9" stroke-width="0.8"/>
<line x1="16.5" y1="246.08" x2="126.8" y2="246.08" stroke="#e9e9e9" stroke-width="0.8"/>
<line x1="16.5" y1="225.55" x2="126.8" y2="225.55" stroke="#e9e9e9" stroke-width="0.8"/>
<line x1="16.5" y1="205.03" x2="126.8" y2="205.03" stroke="#e9e9e9" stroke-width="0.8"/>
<line x1="16.5" y1="184.50" x2="126.8" y2="184.50" stroke="#e9e9e9" stroke-width="0.8"/>
<g clip-path="url(#ce)">
<polyline points="21.51,260.56 23.74,260.13 25.97,259.50 28.20,258.14 30.43,257.30 32.66,256.20 34.88,255.00 37.11,253.50 39.34,252.10 41.57,251.00 43.80,250.40 46.02,249.80 48.25,249.00 50.48,247.70 52.71,246.40 54.94,245.00 57.17,243.50 59.39,242.30 61.62,240.80 63.85,238.90 66.08,237.70 68.31,237.16 70.54,235.74 72.76,233.50 74.99,231.01 77.22,228.59 79.45,225.86 81.68,223.55 83.91,222.70 86.13,224.10 88.36,221.00 90.59,218.70 92.82,216.70 95.05,214.70 97.28,212.40 99.50,210.00 101.73,207.50 103.96,204.90 106.19,202.20 108.42,200.20 110.64,203.10 112.87,197.90 115.10,194.50 117.33,191.60 119.56,188.10 121.79,184.90" fill="none" stroke="#ea7400" stroke-width="1.1" stroke-linejoin="round"/>
<circle cx="21.51" cy="260.56" r="1.65" fill="#e57200" stroke="#b75b00" stroke-width="0.35"/>
<circle cx="23.74" cy="260.13" r="1.65" fill="#e57200" stroke="#b75b00" stroke-width="0.35"/>
<circle cx="25.97" cy="259.50" r="1.65" fill="#e57200" stroke="#b75b00" stroke-width="0.35"/>
<circle cx="28.20" cy="258.14" r="1.65" fill="#e57200" stroke="#b75b00" stroke-width="0.35"/>
<circle cx="30.43" cy="257.30" r="1.65" fill="#e57200" stroke="#b75b00" stroke-width="0.35"/>
<circle cx="32.66" cy="256.20" r="1.65" fill="#e57200" stroke="#b75b00" stroke-width="0.35"/>
<circle cx="34.88" cy="255.00" r="1.65" fill="#e57200" stroke="#b75b00" stroke-width="0.35"/>
<circle cx="37.11" cy="253.50" r="1.65" fill="#e57200" stroke="#b75b00" stroke-width="0.35"/>
<circle cx="39.34" cy="252.10" r="1.65" fill="#e57200" stroke="#b75b00" stroke-width="0.35"/>
<circle cx="41.57" cy="251.00" r="1.65" fill="#e57200" stroke="#b75b00" stroke-width="0.35"/>
<circle cx="43.80" cy="250.40" r="1.65" fill="#e57200" stroke="#b75b00" stroke-width="0.35"/>
<circle cx="46.02" cy="249.80" r="1.65" fill="#e57200" stroke="#b75b00" stroke-width="0.35"/>
<circle cx="48.25" cy="249.00" r="1.65" fill="#e57200" stroke="#b75b00" stroke-width="0.35"/>
<circle cx="50.48" cy="247.70" r="1.65" fill="#e57200" stroke="#b75b00" stroke-width="0.35"/>
<circle cx="52.71" cy="246.40" r="1.65" fill="#e57200" stroke="#b75b00" stroke-width="0.35"/>
<circle cx="54.94" cy="245.00" r="1.65" fill="#e57200" stroke="#b75b00" stroke-width="0.35"/>
<circle cx="57.17" cy="243.50" r="1.65" fill="#e57200" stroke="#b75b00" stroke-width="0.35"/>
<circle cx="59.39" cy="242.30" r="1.65" fill="#e57200" stroke="#b75b00" stroke-width="0.35"/>
<circle cx="61.62" cy="240.80" r="1.65" fill="#e57200" stroke="#b75b00" stroke-width="0.35"/>
<circle cx="63.85" cy="238.90" r="1.65" fill="#e57200" stroke="#b75b00" stroke-width="0.35"/>
<circle cx="66.08" cy="237.70" r="1.65" fill="#e57200" stroke="#b75b00" stroke-width="0.35"/>
<circle cx="68.31" cy="237.16" r="1.65" fill="#e57200" stroke="#b75b00" stroke-width="0.35"/>
<circle cx="70.54" cy="235.74" r="1.65" fill="#e57200" stroke="#b75b00" stroke-width="0.35"/>
<circle cx="72.76" cy="233.50" r="1.65" fill="#e57200" stroke="#b75b00" stroke-width="0.35"/>
<circle cx="74.99" cy="231.01" r="1.65" fill="#e57200" stroke="#b75b00" stroke-width="0.35"/>
<circle cx="77.22" cy="228.59" r="1.65" fill="#e57200" stroke="#b75b00" stroke-width="0.35"/>
<circle cx="79.45" cy="225.86" r="1.65" fill="#e57200" stroke="#b75b00" stroke-width="0.35"/>
<circle cx="81.68" cy="223.55" r="1.65" fill="#e57200" stroke="#b75b00" stroke-width="0.35"/>
<circle cx="83.91" cy="222.70" r="1.65" fill="#e57200" stroke="#b75b00" stroke-width="0.35"/>
<circle cx="86.13" cy="224.10" r="1.65" fill="#e57200" stroke="#b75b00" stroke-width="0.35"/>
<circle cx="88.36" cy="221.00" r="1.65" fill="#e57200" stroke="#b75b00" stroke-width="0.35"/>
<circle cx="90.59" cy="218.70" r="1.65" fill="#e57200" stroke="#b75b00" stroke-width="0.35"/>
<circle cx="92.82" cy="216.70" r="1.65" fill="#e57200" stroke="#b75b00" stroke-width="0.35"/>
<circle cx="95.05" cy="214.70" r="1.65" fill="#e57200" stroke="#b75b00" stroke-width="0.35"/>
<circle cx="97.28" cy="212.40" r="1.65" fill="#e57200" stroke="#b75b00" stroke-width="0.35"/>
<circle cx="99.50" cy="210.00" r="1.65" fill="#e57200" stroke="#b75b00" stroke-width="0.35"/>
<circle cx="101.73" cy="207.50" r="1.65" fill="#e57200" stroke="#b75b00" stroke-width="0.35"/>
<circle cx="103.96" cy="204.90" r="1.65" fill="#e57200" stroke="#b75b00" stroke-width="0.35"/>
<circle cx="106.19" cy="202.20" r="1.65" fill="#e57200" stroke="#b75b00" stroke-width="0.35"/>
<circle cx="108.42" cy="200.20" r="1.65" fill="#e57200" stroke="#b75b00" stroke-width="0.35"/>
<circle cx="110.64" cy="203.10" r="1.65" fill="#e57200" stroke="#b75b00" stroke-width="0.35"/>
<circle cx="112.87" cy="197.90" r="1.65" fill="#e57200" stroke="#b75b00" stroke-width="0.35"/>
<circle cx="115.10" cy="194.50" r="1.65" fill="#e57200" stroke="#b75b00" stroke-width="0.35"/>
<circle cx="117.33" cy="191.60" r="1.65" fill="#e57200" stroke="#b75b00" stroke-width="0.35"/>
<circle cx="119.56" cy="188.10" r="1.65" fill="#e57200" stroke="#b75b00" stroke-width="0.35"/>
<circle cx="121.79" cy="184.90" r="1.65" fill="#e57200" stroke="#b75b00" stroke-width="0.35"/>
</g>
<rect x="16.5" y="177.1" width="110.30" height="90.2" fill="none" stroke="#575757" stroke-width="1.05"/>
<line x1="14.50" y1="266.60" x2="16.5" y2="266.60" stroke="#262626" stroke-width="1.2"/>
<text x="13.00" y="268.95" font-size="6.5" fill="#1a1a1a" text-anchor="end">20</text>
<line x1="14.50" y1="246.08" x2="16.5" y2="246.08" stroke="#262626" stroke-width="1.2"/>
<text x="13.00" y="248.43" font-size="6.5" fill="#1a1a1a" text-anchor="end">40</text>
<line x1="14.50" y1="225.55" x2="16.5" y2="225.55" stroke="#262626" stroke-width="1.2"/>
<text x="13.00" y="227.90" font-size="6.5" fill="#1a1a1a" text-anchor="end">60</text>
<line x1="14.50" y1="205.03" x2="16.5" y2="205.03" stroke="#262626" stroke-width="1.2"/>
<text x="13.00" y="207.38" font-size="6.5" fill="#1a1a1a" text-anchor="end">80</text>
<line x1="14.50" y1="184.50" x2="16.5" y2="184.50" stroke="#262626" stroke-width="1.2"/>
<text x="13.00" y="186.85" font-size="6.5" fill="#1a1a1a" text-anchor="end">100</text>
<g transform="translate(71.65,0) scale(0.97,1) translate(-71.65,0)">
<text x="71.65" y="164.20" font-size="6.4" fill="#1a1a1a" style="stroke-width:0.2px" text-anchor="middle">World GDP</text>
<text x="71.65" y="172.50" font-size="6.4" fill="#1a1a1a" style="stroke-width:0.2px" text-anchor="middle">(trillion current US $/yr)</text>
</g>
<text x="18.70" y="170.20" font-size="9.3" fill="#1a1a1a">e.</text>
</g>
<g>
<clipPath id="cf"><rect x="143.5" y="177.1" width="110.1" height="90.2"/></clipPath>
<line x1="143.5" y1="264.08" x2="253.6" y2="264.08" stroke="#f1f1f1" stroke-width="0.6"/>
<line x1="143.5" y1="240.92" x2="253.6" y2="240.92" stroke="#f1f1f1" stroke-width="0.6"/>
<line x1="143.5" y1="217.75" x2="253.6" y2="217.75" stroke="#f1f1f1" stroke-width="0.6"/>
<line x1="143.5" y1="194.58" x2="253.6" y2="194.58" stroke="#f1f1f1" stroke-width="0.6"/>
<line x1="148.50" y1="177.1" x2="148.50" y2="267.30" stroke="#e9e9e9" stroke-width="0.8"/>
<line x1="170.75" y1="177.1" x2="170.75" y2="267.30" stroke="#e9e9e9" stroke-width="0.8"/>
<line x1="192.99" y1="177.1" x2="192.99" y2="267.30" stroke="#e9e9e9" stroke-width="0.8"/>
<line x1="215.23" y1="177.1" x2="215.23" y2="267.30" stroke="#e9e9e9" stroke-width="0.8"/>
<line x1="237.47" y1="177.1" x2="237.47" y2="267.30" stroke="#e9e9e9" stroke-width="0.8"/>
<line x1="143.5" y1="252.50" x2="253.6" y2="252.50" stroke="#e9e9e9" stroke-width="0.8"/>
<line x1="143.5" y1="229.33" x2="253.6" y2="229.33" stroke="#e9e9e9" stroke-width="0.8"/>
<line x1="143.5" y1="206.17" x2="253.6" y2="206.17" stroke="#e9e9e9" stroke-width="0.8"/>
<line x1="143.5" y1="183.00" x2="253.6" y2="183.00" stroke="#e9e9e9" stroke-width="0.8"/>
<g clip-path="url(#cf)">
<polyline points="195.21,260.70 197.44,246.20 199.66,255.90 201.89,229.70 204.11,238.60 206.33,240.70 208.56,237.70 210.78,236.80 213.01,243.90 215.23,236.80 217.46,241.20 219.68,213.20 221.90,227.00 224.13,212.00 226.35,231.80 228.58,184.60 230.80,185.80 233.03,208.10 235.25,210.60 237.47,202.80 239.70,204.90 241.92,217.00 244.15,190.80 246.37,184.90" fill="none" stroke="#8b4795" stroke-width="1.1" stroke-linejoin="round"/>
<circle cx="195.21" cy="260.70" r="1.65" fill="#884692" stroke="#6d3875" stroke-width="0.35"/>
<circle cx="197.44" cy="246.20" r="1.65" fill="#884692" stroke="#6d3875" stroke-width="0.35"/>
<circle cx="199.66" cy="255.90" r="1.65" fill="#884692" stroke="#6d3875" stroke-width="0.35"/>
<circle cx="201.89" cy="229.70" r="1.65" fill="#884692" stroke="#6d3875" stroke-width="0.35"/>
<circle cx="204.11" cy="238.60" r="1.65" fill="#884692" stroke="#6d3875" stroke-width="0.35"/>
<circle cx="206.33" cy="240.70" r="1.65" fill="#884692" stroke="#6d3875" stroke-width="0.35"/>
<circle cx="208.56" cy="237.70" r="1.65" fill="#884692" stroke="#6d3875" stroke-width="0.35"/>
<circle cx="210.78" cy="236.80" r="1.65" fill="#884692" stroke="#6d3875" stroke-width="0.35"/>
<circle cx="213.01" cy="243.90" r="1.65" fill="#884692" stroke="#6d3875" stroke-width="0.35"/>
<circle cx="215.23" cy="236.80" r="1.65" fill="#884692" stroke="#6d3875" stroke-width="0.35"/>
<circle cx="217.46" cy="241.20" r="1.65" fill="#884692" stroke="#6d3875" stroke-width="0.35"/>
<circle cx="219.68" cy="213.20" r="1.65" fill="#884692" stroke="#6d3875" stroke-width="0.35"/>
<circle cx="221.90" cy="227.00" r="1.65" fill="#884692" stroke="#6d3875" stroke-width="0.35"/>
<circle cx="224.13" cy="212.00" r="1.65" fill="#884692" stroke="#6d3875" stroke-width="0.35"/>
<circle cx="226.35" cy="231.80" r="1.65" fill="#884692" stroke="#6d3875" stroke-width="0.35"/>
<circle cx="228.58" cy="184.60" r="1.65" fill="#884692" stroke="#6d3875" stroke-width="0.35"/>
<circle cx="230.80" cy="185.80" r="1.65" fill="#884692" stroke="#6d3875" stroke-width="0.35"/>
<circle cx="233.03" cy="208.10" r="1.65" fill="#884692" stroke="#6d3875" stroke-width="0.35"/>
<circle cx="235.25" cy="210.60" r="1.65" fill="#884692" stroke="#6d3875" stroke-width="0.35"/>
<circle cx="237.47" cy="202.80" r="1.65" fill="#884692" stroke="#6d3875" stroke-width="0.35"/>
<circle cx="239.70" cy="204.90" r="1.65" fill="#884692" stroke="#6d3875" stroke-width="0.35"/>
<circle cx="241.92" cy="217.00" r="1.65" fill="#884692" stroke="#6d3875" stroke-width="0.35"/>
<circle cx="244.15" cy="190.80" r="1.65" fill="#884692" stroke="#6d3875" stroke-width="0.35"/>
<circle cx="246.37" cy="184.90" r="1.65" fill="#884692" stroke="#6d3875" stroke-width="0.35"/>
</g>
<rect x="143.5" y="177.1" width="110.10" height="90.2" fill="none" stroke="#575757" stroke-width="1.05"/>
<line x1="141.50" y1="252.50" x2="143.5" y2="252.50" stroke="#262626" stroke-width="1.2"/>
<text x="140.00" y="254.85" font-size="6.5" fill="#1a1a1a" text-anchor="end">15</text>
<line x1="141.50" y1="229.33" x2="143.5" y2="229.33" stroke="#262626" stroke-width="1.2"/>
<text x="140.00" y="231.68" font-size="6.5" fill="#1a1a1a" text-anchor="end">20</text>
<line x1="141.50" y1="206.17" x2="143.5" y2="206.17" stroke="#262626" stroke-width="1.2"/>
<text x="140.00" y="208.52" font-size="6.5" fill="#1a1a1a" text-anchor="end">25</text>
<line x1="141.50" y1="183.00" x2="143.5" y2="183.00" stroke="#262626" stroke-width="1.2"/>
<text x="140.00" y="185.35" font-size="6.5" fill="#1a1a1a" text-anchor="end">30</text>
<g transform="translate(198.55,0) scale(0.97,1) translate(-198.55,0)">
<text x="198.55" y="164.20" font-size="6.4" fill="#1a1a1a" style="stroke-width:0.2px" text-anchor="middle">Global tree cover loss</text>
<text x="198.55" y="172.50" font-size="6.4" fill="#1a1a1a" style="stroke-width:0.2px" text-anchor="middle">(million hectares/yr)</text>
</g>
<text x="145.70" y="170.20" font-size="9.3" fill="#1a1a1a">f.</text>
</g>
<g>
<clipPath id="cg"><rect x="274.4" y="177.1" width="109.80000000000001" height="90.2"/></clipPath>
<line x1="274.4" y1="258.45" x2="384.2" y2="258.45" stroke="#f1f1f1" stroke-width="0.6"/>
<line x1="274.4" y1="227.55" x2="384.2" y2="227.55" stroke="#f1f1f1" stroke-width="0.6"/>
<line x1="274.4" y1="196.65" x2="384.2" y2="196.65" stroke="#f1f1f1" stroke-width="0.6"/>
<line x1="279.39" y1="177.1" x2="279.39" y2="267.30" stroke="#e9e9e9" stroke-width="0.8"/>
<line x1="301.57" y1="177.1" x2="301.57" y2="267.30" stroke="#e9e9e9" stroke-width="0.8"/>
<line x1="323.75" y1="177.1" x2="323.75" y2="267.30" stroke="#e9e9e9" stroke-width="0.8"/>
<line x1="345.94" y1="177.1" x2="345.94" y2="267.30" stroke="#e9e9e9" stroke-width="0.8"/>
<line x1="368.12" y1="177.1" x2="368.12" y2="267.30" stroke="#e9e9e9" stroke-width="0.8"/>
<line x1="274.4" y1="243.00" x2="384.2" y2="243.00" stroke="#e9e9e9" stroke-width="0.8"/>
<line x1="274.4" y1="212.10" x2="384.2" y2="212.10" stroke="#e9e9e9" stroke-width="0.8"/>
<line x1="274.4" y1="181.20" x2="384.2" y2="181.20" stroke="#e9e9e9" stroke-width="0.8"/>
<g clip-path="url(#cg)">
<polyline points="297.14,208.86 299.35,218.99 301.57,231.47 303.79,239.82 306.01,231.29 308.23,227.86 310.45,227.86 312.66,184.10 314.88,217.79 317.10,233.02 319.32,220.20 321.54,220.57 323.75,217.57 325.97,217.75 328.19,207.00 330.41,195.41 332.63,188.09 334.85,215.16 337.06,229.74 339.28,237.90 341.50,234.01 343.72,250.85 345.94,252.27 348.15,254.06 350.37,259.78 352.59,255.70 354.81,258.42 357.03,254.71 359.25,249.52 361.46,252.42 363.68,250.60 365.90,242.60 368.12,240.37 370.34,233.61 372.55,238.09 374.77,246.09 376.99,254.46" fill="none" stroke="#8b4795" stroke-width="1.1" stroke-linejoin="round"/>
<circle cx="297.14" cy="208.86" r="1.65" fill="#884692" stroke="#6d3875" stroke-width="0.35"/>
<circle cx="299.35" cy="218.99" r="1.65" fill="#884692" stroke="#6d3875" stroke-width="0.35"/>
<circle cx="301.57" cy="231.47" r="1.65" fill="#884692" stroke="#6d3875" stroke-width="0.35"/>
<circle cx="303.79" cy="239.82" r="1.65" fill="#884692" stroke="#6d3875" stroke-width="0.35"/>
<circle cx="306.01" cy="231.29" r="1.65" fill="#884692" stroke="#6d3875" stroke-width="0.35"/>
<circle cx="308.23" cy="227.86" r="1.65" fill="#884692" stroke="#6d3875" stroke-width="0.35"/>
<circle cx="310.45" cy="227.86" r="1.65" fill="#884692" stroke="#6d3875" stroke-width="0.35"/>
<circle cx="312.66" cy="184.10" r="1.65" fill="#884692" stroke="#6d3875" stroke-width="0.35"/>
<circle cx="314.88" cy="217.79" r="1.65" fill="#884692" stroke="#6d3875" stroke-width="0.35"/>
<circle cx="317.10" cy="233.02" r="1.65" fill="#884692" stroke="#6d3875" stroke-width="0.35"/>
<circle cx="319.32" cy="220.20" r="1.65" fill="#884692" stroke="#6d3875" stroke-width="0.35"/>
<circle cx="321.54" cy="220.57" r="1.65" fill="#884692" stroke="#6d3875" stroke-width="0.35"/>
<circle cx="323.75" cy="217.57" r="1.65" fill="#884692" stroke="#6d3875" stroke-width="0.35"/>
<circle cx="325.97" cy="217.75" r="1.65" fill="#884692" stroke="#6d3875" stroke-width="0.35"/>
<circle cx="328.19" cy="207.00" r="1.65" fill="#884692" stroke="#6d3875" stroke-width="0.35"/>
<circle cx="330.41" cy="195.41" r="1.65" fill="#884692" stroke="#6d3875" stroke-width="0.35"/>
<circle cx="332.63" cy="188.09" r="1.65" fill="#884692" stroke="#6d3875" stroke-width="0.35"/>
<circle cx="334.85" cy="215.16" r="1.65" fill="#884692" stroke="#6d3875" stroke-width="0.35"/>
<circle cx="337.06" cy="229.74" r="1.65" fill="#884692" stroke="#6d3875" stroke-width="0.35"/>
<circle cx="339.28" cy="237.90" r="1.65" fill="#884692" stroke="#6d3875" stroke-width="0.35"/>
<circle cx="341.50" cy="234.01" r="1.65" fill="#884692" stroke="#6d3875" stroke-width="0.35"/>
<circle cx="343.72" cy="250.85" r="1.65" fill="#884692" stroke="#6d3875" stroke-width="0.35"/>
<circle cx="345.94" cy="252.27" r="1.65" fill="#884692" stroke="#6d3875" stroke-width="0.35"/>
<circle cx="348.15" cy="254.06" r="1.65" fill="#884692" stroke="#6d3875" stroke-width="0.35"/>
<circle cx="350.37" cy="259.78" r="1.65" fill="#884692" stroke="#6d3875" stroke-width="0.35"/>
<circle cx="352.59" cy="255.70" r="1.65" fill="#884692" stroke="#6d3875" stroke-width="0.35"/>
<circle cx="354.81" cy="258.42" r="1.65" fill="#884692" stroke="#6d3875" stroke-width="0.35"/>
<circle cx="357.03" cy="254.71" r="1.65" fill="#884692" stroke="#6d3875" stroke-width="0.35"/>
<circle cx="359.25" cy="249.52" r="1.65" fill="#884692" stroke="#6d3875" stroke-width="0.35"/>
<circle cx="361.46" cy="252.42" r="1.65" fill="#884692" stroke="#6d3875" stroke-width="0.35"/>
<circle cx="363.68" cy="250.60" r="1.65" fill="#884692" stroke="#6d3875" stroke-width="0.35"/>
<circle cx="365.90" cy="242.60" r="1.65" fill="#884692" stroke="#6d3875" stroke-width="0.35"/>
<circle cx="368.12" cy="240.37" r="1.65" fill="#884692" stroke="#6d3875" stroke-width="0.35"/>
<circle cx="370.34" cy="233.61" r="1.65" fill="#884692" stroke="#6d3875" stroke-width="0.35"/>
<circle cx="372.55" cy="238.09" r="1.65" fill="#884692" stroke="#6d3875" stroke-width="0.35"/>
<circle cx="374.77" cy="246.09" r="1.65" fill="#884692" stroke="#6d3875" stroke-width="0.35"/>
<circle cx="376.99" cy="254.46" r="1.65" fill="#884692" stroke="#6d3875" stroke-width="0.35"/>
</g>
<rect x="274.4" y="177.1" width="109.80" height="90.2" fill="none" stroke="#575757" stroke-width="1.05"/>
<line x1="272.40" y1="243.00" x2="274.4" y2="243.00" stroke="#262626" stroke-width="1.2"/>
<text x="270.90" y="245.35" font-size="6.5" fill="#1a1a1a" text-anchor="end">1</text>
<line x1="272.40" y1="212.10" x2="274.4" y2="212.10" stroke="#262626" stroke-width="1.2"/>
<text x="270.90" y="214.45" font-size="6.5" fill="#1a1a1a" text-anchor="end">2</text>
<line x1="272.40" y1="181.20" x2="274.4" y2="181.20" stroke="#262626" stroke-width="1.2"/>
<text x="270.90" y="183.55" font-size="6.5" fill="#1a1a1a" text-anchor="end">3</text>
<g transform="translate(329.30,0) scale(0.97,1) translate(-329.30,0)">
<text x="329.30" y="164.20" font-size="6.4" fill="#1a1a1a" style="stroke-width:0.2px" text-anchor="middle">Brazilian Amazon forest</text>
<text x="329.30" y="172.50" font-size="6.4" fill="#1a1a1a" style="stroke-width:0.2px" text-anchor="middle">loss (million hectares/yr)</text>
</g>
<text x="276.60" y="170.20" font-size="9.3" fill="#1a1a1a">g.</text>
</g>
<g>
<clipPath id="ch"><rect x="402.7" y="177.1" width="110.00000000000006" height="90.2"/></clipPath>
<line x1="402.7" y1="250.39" x2="512.7" y2="250.39" stroke="#f1f1f1" stroke-width="0.6"/>
<line x1="402.7" y1="231.36" x2="512.7" y2="231.36" stroke="#f1f1f1" stroke-width="0.6"/>
<line x1="402.7" y1="212.34" x2="512.7" y2="212.34" stroke="#f1f1f1" stroke-width="0.6"/>
<line x1="402.7" y1="193.31" x2="512.7" y2="193.31" stroke="#f1f1f1" stroke-width="0.6"/>
<line x1="407.70" y1="177.1" x2="407.70" y2="267.30" stroke="#e9e9e9" stroke-width="0.8"/>
<line x1="429.92" y1="177.1" x2="429.92" y2="267.30" stroke="#e9e9e9" stroke-width="0.8"/>
<line x1="452.14" y1="177.1" x2="452.14" y2="267.30" stroke="#e9e9e9" stroke-width="0.8"/>
<line x1="474.37" y1="177.1" x2="474.37" y2="267.30" stroke="#e9e9e9" stroke-width="0.8"/>
<line x1="496.59" y1="177.1" x2="496.59" y2="267.30" stroke="#e9e9e9" stroke-width="0.8"/>
<line x1="402.7" y1="259.90" x2="512.7" y2="259.90" stroke="#e9e9e9" stroke-width="0.8"/>
<line x1="402.7" y1="240.88" x2="512.7" y2="240.88" stroke="#e9e9e9" stroke-width="0.8"/>
<line x1="402.7" y1="221.85" x2="512.7" y2="221.85" stroke="#e9e9e9" stroke-width="0.8"/>
<line x1="402.7" y1="202.82" x2="512.7" y2="202.82" stroke="#e9e9e9" stroke-width="0.8"/>
<line x1="402.7" y1="183.80" x2="512.7" y2="183.80" stroke="#e9e9e9" stroke-width="0.8"/>
<g clip-path="url(#ch)">
<polyline points="407.70,212.00 409.92,214.10 412.14,215.20 414.37,214.87 416.59,214.25 418.81,213.19 421.03,212.00 423.26,210.60 425.48,209.30 427.70,208.75 429.92,208.29 432.14,208.24 434.37,208.50 436.59,207.00 438.81,205.80 441.03,204.95 443.26,203.79 445.48,202.99 447.70,202.80 449.92,201.70 452.14,201.00 454.37,200.27 456.59,198.97 458.81,197.43 461.03,196.07 463.26,195.20 465.48,194.30 467.70,194.70 469.92,195.57 472.14,197.50 474.37,195.20 476.59,193.90 478.81,193.27 481.03,192.28 483.26,191.22 485.48,190.40 487.70,189.00 489.92,187.60 492.14,186.76 494.37,186.80 496.59,192.90 498.81,189.17 501.03,186.98 503.26,185.80 505.48,184.88" fill="none" stroke="#46a144" stroke-width="1.1" stroke-linejoin="round"/>
<circle cx="407.70" cy="212.00" r="1.65" fill="#459d42" stroke="#377e35" stroke-width="0.35"/>
<circle cx="409.92" cy="214.10" r="1.65" fill="#459d42" stroke="#377e35" stroke-width="0.35"/>
<circle cx="412.14" cy="215.20" r="1.65" fill="#459d42" stroke="#377e35" stroke-width="0.35"/>
<circle cx="414.37" cy="214.87" r="1.65" fill="#459d42" stroke="#377e35" stroke-width="0.35"/>
<circle cx="416.59" cy="214.25" r="1.65" fill="#459d42" stroke="#377e35" stroke-width="0.35"/>
<circle cx="418.81" cy="213.19" r="1.65" fill="#459d42" stroke="#377e35" stroke-width="0.35"/>
<circle cx="421.03" cy="212.00" r="1.65" fill="#459d42" stroke="#377e35" stroke-width="0.35"/>
<circle cx="423.26" cy="210.60" r="1.65" fill="#459d42" stroke="#377e35" stroke-width="0.35"/>
<circle cx="425.48" cy="209.30" r="1.65" fill="#459d42" stroke="#377e35" stroke-width="0.35"/>
<circle cx="427.70" cy="208.75" r="1.65" fill="#459d42" stroke="#377e35" stroke-width="0.35"/>
<circle cx="429.92" cy="208.29" r="1.65" fill="#459d42" stroke="#377e35" stroke-width="0.35"/>
<circle cx="432.14" cy="208.24" r="1.65" fill="#459d42" stroke="#377e35" stroke-width="0.35"/>
<circle cx="434.37" cy="208.50" r="1.65" fill="#459d42" stroke="#377e35" stroke-width="0.35"/>
<circle cx="436.59" cy="207.00" r="1.65" fill="#459d42" stroke="#377e35" stroke-width="0.35"/>
<circle cx="438.81" cy="205.80" r="1.65" fill="#459d42" stroke="#377e35" stroke-width="0.35"/>
<circle cx="441.03" cy="204.95" r="1.65" fill="#459d42" stroke="#377e35" stroke-width="0.35"/>
<circle cx="443.26" cy="203.79" r="1.65" fill="#459d42" stroke="#377e35" stroke-width="0.35"/>
<circle cx="445.48" cy="202.99" r="1.65" fill="#459d42" stroke="#377e35" stroke-width="0.35"/>
<circle cx="447.70" cy="202.80" r="1.65" fill="#459d42" stroke="#377e35" stroke-width="0.35"/>
<circle cx="449.92" cy="201.70" r="1.65" fill="#459d42" stroke="#377e35" stroke-width="0.35"/>
<circle cx="452.14" cy="201.00" r="1.65" fill="#459d42" stroke="#377e35" stroke-width="0.35"/>
<circle cx="454.37" cy="200.27" r="1.65" fill="#459d42" stroke="#377e35" stroke-width="0.35"/>
<circle cx="456.59" cy="198.97" r="1.65" fill="#459d42" stroke="#377e35" stroke-width="0.35"/>
<circle cx="458.81" cy="197.43" r="1.65" fill="#459d42" stroke="#377e35" stroke-width="0.35"/>
<circle cx="461.03" cy="196.07" r="1.65" fill="#459d42" stroke="#377e35" stroke-width="0.35"/>
<circle cx="463.26" cy="195.20" r="1.65" fill="#459d42" stroke="#377e35" stroke-width="0.35"/>
<circle cx="465.48" cy="194.30" r="1.65" fill="#459d42" stroke="#377e35" stroke-width="0.35"/>
<circle cx="467.70" cy="194.70" r="1.65" fill="#459d42" stroke="#377e35" stroke-width="0.35"/>
<circle cx="469.92" cy="195.57" r="1.65" fill="#459d42" stroke="#377e35" stroke-width="0.35"/>
<circle cx="472.14" cy="197.50" r="1.65" fill="#459d42" stroke="#377e35" stroke-width="0.35"/>
<circle cx="474.37" cy="195.20" r="1.65" fill="#459d42" stroke="#377e35" stroke-width="0.35"/>
<circle cx="476.59" cy="193.90" r="1.65" fill="#459d42" stroke="#377e35" stroke-width="0.35"/>
<circle cx="478.81" cy="193.27" r="1.65" fill="#459d42" stroke="#377e35" stroke-width="0.35"/>
<circle cx="481.03" cy="192.28" r="1.65" fill="#459d42" stroke="#377e35" stroke-width="0.35"/>
<circle cx="483.26" cy="191.22" r="1.65" fill="#459d42" stroke="#377e35" stroke-width="0.35"/>
<circle cx="485.48" cy="190.40" r="1.65" fill="#459d42" stroke="#377e35" stroke-width="0.35"/>
<circle cx="487.70" cy="189.00" r="1.65" fill="#459d42" stroke="#377e35" stroke-width="0.35"/>
<circle cx="489.92" cy="187.60" r="1.65" fill="#459d42" stroke="#377e35" stroke-width="0.35"/>
<circle cx="492.14" cy="186.76" r="1.65" fill="#459d42" stroke="#377e35" stroke-width="0.35"/>
<circle cx="494.37" cy="186.80" r="1.65" fill="#459d42" stroke="#377e35" stroke-width="0.35"/>
<circle cx="496.59" cy="192.90" r="1.65" fill="#459d42" stroke="#377e35" stroke-width="0.35"/>
<circle cx="498.81" cy="189.17" r="1.65" fill="#459d42" stroke="#377e35" stroke-width="0.35"/>
<circle cx="501.03" cy="186.98" r="1.65" fill="#459d42" stroke="#377e35" stroke-width="0.35"/>
<circle cx="503.26" cy="185.80" r="1.65" fill="#459d42" stroke="#377e35" stroke-width="0.35"/>
<circle cx="505.48" cy="184.88" r="1.65" fill="#459d42" stroke="#377e35" stroke-width="0.35"/>
<polyline points="407.70,231.80 409.92,231.50 412.14,230.60 414.37,229.75 416.59,228.61 418.81,227.43 421.03,226.50 423.26,225.30 425.48,224.40 427.70,224.61 429.92,225.02 432.14,225.40 434.37,225.60 436.59,225.40 438.81,225.30 441.03,224.67 443.26,224.18 445.48,224.00 447.70,224.00 449.92,224.40 452.14,223.50 454.37,221.10 456.59,218.33 458.81,214.52 461.03,211.27 463.26,209.30 465.48,206.30 467.70,204.90 469.92,204.71 472.14,204.60 474.37,203.23 476.59,200.20 478.81,199.51 481.03,199.30 483.26,199.60 485.48,200.00 487.70,200.65 489.92,200.31 492.14,200.18 494.37,201.40 496.59,202.80 498.81,199.30 501.03,198.70 503.26,198.20 505.48,197.72" fill="none" stroke="#46a144" stroke-width="1.1" stroke-linejoin="round"/>
<circle cx="407.70" cy="231.80" r="1.65" fill="#459d42" stroke="#377e35" stroke-width="0.35"/>
<circle cx="409.92" cy="231.50" r="1.65" fill="#459d42" stroke="#377e35" stroke-width="0.35"/>
<circle cx="412.14" cy="230.60" r="1.65" fill="#459d42" stroke="#377e35" stroke-width="0.35"/>
<circle cx="414.37" cy="229.75" r="1.65" fill="#459d42" stroke="#377e35" stroke-width="0.35"/>
<circle cx="416.59" cy="228.61" r="1.65" fill="#459d42" stroke="#377e35" stroke-width="0.35"/>
<circle cx="418.81" cy="227.43" r="1.65" fill="#459d42" stroke="#377e35" stroke-width="0.35"/>
<circle cx="421.03" cy="226.50" r="1.65" fill="#459d42" stroke="#377e35" stroke-width="0.35"/>
<circle cx="423.26" cy="225.30" r="1.65" fill="#459d42" stroke="#377e35" stroke-width="0.35"/>
<circle cx="425.48" cy="224.40" r="1.65" fill="#459d42" stroke="#377e35" stroke-width="0.35"/>
<circle cx="427.70" cy="224.61" r="1.65" fill="#459d42" stroke="#377e35" stroke-width="0.35"/>
<circle cx="429.92" cy="225.02" r="1.65" fill="#459d42" stroke="#377e35" stroke-width="0.35"/>
<circle cx="432.14" cy="225.40" r="1.65" fill="#459d42" stroke="#377e35" stroke-width="0.35"/>
<circle cx="434.37" cy="225.60" r="1.65" fill="#459d42" stroke="#377e35" stroke-width="0.35"/>
<circle cx="436.59" cy="225.40" r="1.65" fill="#459d42" stroke="#377e35" stroke-width="0.35"/>
<circle cx="438.81" cy="225.30" r="1.65" fill="#459d42" stroke="#377e35" stroke-width="0.35"/>
<circle cx="441.03" cy="224.67" r="1.65" fill="#459d42" stroke="#377e35" stroke-width="0.35"/>
<circle cx="443.26" cy="224.18" r="1.65" fill="#459d42" stroke="#377e35" stroke-width="0.35"/>
<circle cx="445.48" cy="224.00" r="1.65" fill="#459d42" stroke="#377e35" stroke-width="0.35"/>
<circle cx="447.70" cy="224.00" r="1.65" fill="#459d42" stroke="#377e35" stroke-width="0.35"/>
<circle cx="449.92" cy="224.40" r="1.65" fill="#459d42" stroke="#377e35" stroke-width="0.35"/>
<circle cx="452.14" cy="223.50" r="1.65" fill="#459d42" stroke="#377e35" stroke-width="0.35"/>
<circle cx="454.37" cy="221.10" r="1.65" fill="#459d42" stroke="#377e35" stroke-width="0.35"/>
<circle cx="456.59" cy="218.33" r="1.65" fill="#459d42" stroke="#377e35" stroke-width="0.35"/>
<circle cx="458.81" cy="214.52" r="1.65" fill="#459d42" stroke="#377e35" stroke-width="0.35"/>
<circle cx="461.03" cy="211.27" r="1.65" fill="#459d42" stroke="#377e35" stroke-width="0.35"/>
<circle cx="463.26" cy="209.30" r="1.65" fill="#459d42" stroke="#377e35" stroke-width="0.35"/>
<circle cx="465.48" cy="206.30" r="1.65" fill="#459d42" stroke="#377e35" stroke-width="0.35"/>
<circle cx="467.70" cy="204.90" r="1.65" fill="#459d42" stroke="#377e35" stroke-width="0.35"/>
<circle cx="469.92" cy="204.71" r="1.65" fill="#459d42" stroke="#377e35" stroke-width="0.35"/>
<circle cx="472.14" cy="204.60" r="1.65" fill="#459d42" stroke="#377e35" stroke-width="0.35"/>
<circle cx="474.37" cy="203.23" r="1.65" fill="#459d42" stroke="#377e35" stroke-width="0.35"/>
<circle cx="476.59" cy="200.20" r="1.65" fill="#459d42" stroke="#377e35" stroke-width="0.35"/>
<circle cx="478.81" cy="199.51" r="1.65" fill="#459d42" stroke="#377e35" stroke-width="0.35"/>
<circle cx="481.03" cy="199.30" r="1.65" fill="#459d42" stroke="#377e35" stroke-width="0.35"/>
<circle cx="483.26" cy="199.60" r="1.65" fill="#459d42" stroke="#377e35" stroke-width="0.35"/>
<circle cx="485.48" cy="200.00" r="1.65" fill="#459d42" stroke="#377e35" stroke-width="0.35"/>
<circle cx="487.70" cy="200.65" r="1.65" fill="#459d42" stroke="#377e35" stroke-width="0.35"/>
<circle cx="489.92" cy="200.31" r="1.65" fill="#459d42" stroke="#377e35" stroke-width="0.35"/>
<circle cx="492.14" cy="200.18" r="1.65" fill="#459d42" stroke="#377e35" stroke-width="0.35"/>
<circle cx="494.37" cy="201.40" r="1.65" fill="#459d42" stroke="#377e35" stroke-width="0.35"/>
<circle cx="496.59" cy="202.80" r="1.65" fill="#459d42" stroke="#377e35" stroke-width="0.35"/>
<circle cx="498.81" cy="199.30" r="1.65" fill="#459d42" stroke="#377e35" stroke-width="0.35"/>
<circle cx="501.03" cy="198.70" r="1.65" fill="#459d42" stroke="#377e35" stroke-width="0.35"/>
<circle cx="503.26" cy="198.20" r="1.65" fill="#459d42" stroke="#377e35" stroke-width="0.35"/>
<circle cx="505.48" cy="197.72" r="1.65" fill="#459d42" stroke="#377e35" stroke-width="0.35"/>
<polyline points="407.70,241.20 409.92,240.80 412.14,240.70 414.37,239.85 416.59,238.81 418.81,238.03 421.03,237.70 423.26,236.80 425.48,235.40 427.70,234.50 429.92,233.63 432.14,233.20 434.37,233.20 436.59,232.90 438.81,231.80 441.03,230.95 443.26,229.90 445.48,229.30 447.70,229.30 449.92,228.30 452.14,227.00 454.37,227.40 456.59,226.87 458.81,225.73 461.03,224.37 463.26,223.50 465.48,222.30 467.70,220.80 469.92,220.30 472.14,219.40 474.37,218.20 476.59,217.00 478.81,215.50 481.03,214.10 483.26,213.32 485.48,212.28 487.70,211.08 489.92,209.90 492.14,208.10 494.37,206.70 496.59,206.10 498.81,205.35 501.03,204.80 503.26,204.60 505.48,203.76" fill="none" stroke="#46a144" stroke-width="1.1" stroke-linejoin="round"/>
<circle cx="407.70" cy="241.20" r="1.65" fill="#459d42" stroke="#377e35" stroke-width="0.35"/>
<circle cx="409.92" cy="240.80" r="1.65" fill="#459d42" stroke="#377e35" stroke-width="0.35"/>
<circle cx="412.14" cy="240.70" r="1.65" fill="#459d42" stroke="#377e35" stroke-width="0.35"/>
<circle cx="414.37" cy="239.85" r="1.65" fill="#459d42" stroke="#377e35" stroke-width="0.35"/>
<circle cx="416.59" cy="238.81" r="1.65" fill="#459d42" stroke="#377e35" stroke-width="0.35"/>
<circle cx="418.81" cy="238.03" r="1.65" fill="#459d42" stroke="#377e35" stroke-width="0.35"/>
<circle cx="421.03" cy="237.70" r="1.65" fill="#459d42" stroke="#377e35" stroke-width="0.35"/>
<circle cx="423.26" cy="236.80" r="1.65" fill="#459d42" stroke="#377e35" stroke-width="0.35"/>
<circle cx="425.48" cy="235.40" r="1.65" fill="#459d42" stroke="#377e35" stroke-width="0.35"/>
<circle cx="427.70" cy="234.50" r="1.65" fill="#459d42" stroke="#377e35" stroke-width="0.35"/>
<circle cx="429.92" cy="233.63" r="1.65" fill="#459d42" stroke="#377e35" stroke-width="0.35"/>
<circle cx="432.14" cy="233.20" r="1.65" fill="#459d42" stroke="#377e35" stroke-width="0.35"/>
<circle cx="434.37" cy="233.20" r="1.65" fill="#459d42" stroke="#377e35" stroke-width="0.35"/>
<circle cx="436.59" cy="232.90" r="1.65" fill="#459d42" stroke="#377e35" stroke-width="0.35"/>
<circle cx="438.81" cy="231.80" r="1.65" fill="#459d42" stroke="#377e35" stroke-width="0.35"/>
<circle cx="441.03" cy="230.95" r="1.65" fill="#459d42" stroke="#377e35" stroke-width="0.35"/>
<circle cx="443.26" cy="229.90" r="1.65" fill="#459d42" stroke="#377e35" stroke-width="0.35"/>
<circle cx="445.48" cy="229.30" r="1.65" fill="#459d42" stroke="#377e35" stroke-width="0.35"/>
<circle cx="447.70" cy="229.30" r="1.65" fill="#459d42" stroke="#377e35" stroke-width="0.35"/>
<circle cx="449.92" cy="228.30" r="1.65" fill="#459d42" stroke="#377e35" stroke-width="0.35"/>
<circle cx="452.14" cy="227.00" r="1.65" fill="#459d42" stroke="#377e35" stroke-width="0.35"/>
<circle cx="454.37" cy="227.40" r="1.65" fill="#459d42" stroke="#377e35" stroke-width="0.35"/>
<circle cx="456.59" cy="226.87" r="1.65" fill="#459d42" stroke="#377e35" stroke-width="0.35"/>
<circle cx="458.81" cy="225.73" r="1.65" fill="#459d42" stroke="#377e35" stroke-width="0.35"/>
<circle cx="461.03" cy="224.37" r="1.65" fill="#459d42" stroke="#377e35" stroke-width="0.35"/>
<circle cx="463.26" cy="223.50" r="1.65" fill="#459d42" stroke="#377e35" stroke-width="0.35"/>
<circle cx="465.48" cy="222.30" r="1.65" fill="#459d42" stroke="#377e35" stroke-width="0.35"/>
<circle cx="467.70" cy="220.80" r="1.65" fill="#459d42" stroke="#377e35" stroke-width="0.35"/>
<circle cx="469.92" cy="220.30" r="1.65" fill="#459d42" stroke="#377e35" stroke-width="0.35"/>
<circle cx="472.14" cy="219.40" r="1.65" fill="#459d42" stroke="#377e35" stroke-width="0.35"/>
<circle cx="474.37" cy="218.20" r="1.65" fill="#459d42" stroke="#377e35" stroke-width="0.35"/>
<circle cx="476.59" cy="217.00" r="1.65" fill="#459d42" stroke="#377e35" stroke-width="0.35"/>
<circle cx="478.81" cy="215.50" r="1.65" fill="#459d42" stroke="#377e35" stroke-width="0.35"/>
<circle cx="481.03" cy="214.10" r="1.65" fill="#459d42" stroke="#377e35" stroke-width="0.35"/>
<circle cx="483.26" cy="213.32" r="1.65" fill="#459d42" stroke="#377e35" stroke-width="0.35"/>
<circle cx="485.48" cy="212.28" r="1.65" fill="#459d42" stroke="#377e35" stroke-width="0.35"/>
<circle cx="487.70" cy="211.08" r="1.65" fill="#459d42" stroke="#377e35" stroke-width="0.35"/>
<circle cx="489.92" cy="209.90" r="1.65" fill="#459d42" stroke="#377e35" stroke-width="0.35"/>
<circle cx="492.14" cy="208.10" r="1.65" fill="#459d42" stroke="#377e35" stroke-width="0.35"/>
<circle cx="494.37" cy="206.70" r="1.65" fill="#459d42" stroke="#377e35" stroke-width="0.35"/>
<circle cx="496.59" cy="206.10" r="1.65" fill="#459d42" stroke="#377e35" stroke-width="0.35"/>
<circle cx="498.81" cy="205.35" r="1.65" fill="#459d42" stroke="#377e35" stroke-width="0.35"/>
<circle cx="501.03" cy="204.80" r="1.65" fill="#459d42" stroke="#377e35" stroke-width="0.35"/>
<circle cx="503.26" cy="204.60" r="1.65" fill="#459d42" stroke="#377e35" stroke-width="0.35"/>
<circle cx="505.48" cy="203.76" r="1.65" fill="#459d42" stroke="#377e35" stroke-width="0.35"/>
<polyline points="407.70,259.90 409.92,259.90 412.14,259.90 414.37,259.90 416.59,259.90 418.81,259.90 421.03,259.90 423.26,259.90 425.48,259.90 427.70,259.90 429.92,259.90 432.14,259.90 434.37,259.90 436.59,259.90 438.81,259.90 441.03,259.88 443.26,259.87 445.48,259.86 447.70,259.85 449.92,259.84 452.14,259.82 454.37,259.79 456.59,259.77 458.81,259.74 461.03,259.71 463.26,259.67 465.48,259.61 467.70,259.54 469.92,259.44 472.14,259.33 474.37,259.22 476.59,259.06 478.81,258.87 481.03,258.68 483.26,258.49 485.48,258.26 487.70,258.00 489.92,257.69 492.14,257.35 494.37,256.97 496.59,256.51 498.81,255.98 501.03,255.26 503.26,254.38 505.48,253.43" fill="none" stroke="#46a144" stroke-width="1.1" stroke-linejoin="round"/>
<circle cx="407.70" cy="259.90" r="1.65" fill="#459d42" stroke="#377e35" stroke-width="0.35"/>
<circle cx="409.92" cy="259.90" r="1.65" fill="#459d42" stroke="#377e35" stroke-width="0.35"/>
<circle cx="412.14" cy="259.90" r="1.65" fill="#459d42" stroke="#377e35" stroke-width="0.35"/>
<circle cx="414.37" cy="259.90" r="1.65" fill="#459d42" stroke="#377e35" stroke-width="0.35"/>
<circle cx="416.59" cy="259.90" r="1.65" fill="#459d42" stroke="#377e35" stroke-width="0.35"/>
<circle cx="418.81" cy="259.90" r="1.65" fill="#459d42" stroke="#377e35" stroke-width="0.35"/>
<circle cx="421.03" cy="259.90" r="1.65" fill="#459d42" stroke="#377e35" stroke-width="0.35"/>
<circle cx="423.26" cy="259.90" r="1.65" fill="#459d42" stroke="#377e35" stroke-width="0.35"/>
<circle cx="425.48" cy="259.90" r="1.65" fill="#459d42" stroke="#377e35" stroke-width="0.35"/>
<circle cx="427.70" cy="259.90" r="1.65" fill="#459d42" stroke="#377e35" stroke-width="0.35"/>
<circle cx="429.92" cy="259.90" r="1.65" fill="#459d42" stroke="#377e35" stroke-width="0.35"/>
<circle cx="432.14" cy="259.90" r="1.65" fill="#459d42" stroke="#377e35" stroke-width="0.35"/>
<circle cx="434.37" cy="259.90" r="1.65" fill="#459d42" stroke="#377e35" stroke-width="0.35"/>
<circle cx="436.59" cy="259.90" r="1.65" fill="#459d42" stroke="#377e35" stroke-width="0.35"/>
<circle cx="438.81" cy="259.90" r="1.65" fill="#459d42" stroke="#377e35" stroke-width="0.35"/>
<circle cx="441.03" cy="259.88" r="1.65" fill="#459d42" stroke="#377e35" stroke-width="0.35"/>
<circle cx="443.26" cy="259.87" r="1.65" fill="#459d42" stroke="#377e35" stroke-width="0.35"/>
<circle cx="445.48" cy="259.86" r="1.65" fill="#459d42" stroke="#377e35" stroke-width="0.35"/>
<circle cx="447.70" cy="259.85" r="1.65" fill="#459d42" stroke="#377e35" stroke-width="0.35"/>
<circle cx="449.92" cy="259.84" r="1.65" fill="#459d42" stroke="#377e35" stroke-width="0.35"/>
<circle cx="452.14" cy="259.82" r="1.65" fill="#459d42" stroke="#377e35" stroke-width="0.35"/>
<circle cx="454.37" cy="259.79" r="1.65" fill="#459d42" stroke="#377e35" stroke-width="0.35"/>
<circle cx="456.59" cy="259.77" r="1.65" fill="#459d42" stroke="#377e35" stroke-width="0.35"/>
<circle cx="458.81" cy="259.74" r="1.65" fill="#459d42" stroke="#377e35" stroke-width="0.35"/>
<circle cx="461.03" cy="259.71" r="1.65" fill="#459d42" stroke="#377e35" stroke-width="0.35"/>
<circle cx="463.26" cy="259.67" r="1.65" fill="#459d42" stroke="#377e35" stroke-width="0.35"/>
<circle cx="465.48" cy="259.61" r="1.65" fill="#459d42" stroke="#377e35" stroke-width="0.35"/>
<circle cx="467.70" cy="259.54" r="1.65" fill="#459d42" stroke="#377e35" stroke-width="0.35"/>
<circle cx="469.92" cy="259.44" r="1.65" fill="#459d42" stroke="#377e35" stroke-width="0.35"/>
<circle cx="472.14" cy="259.33" r="1.65" fill="#459d42" stroke="#377e35" stroke-width="0.35"/>
<circle cx="474.37" cy="259.22" r="1.65" fill="#459d42" stroke="#377e35" stroke-width="0.35"/>
<circle cx="476.59" cy="259.06" r="1.65" fill="#459d42" stroke="#377e35" stroke-width="0.35"/>
<circle cx="478.81" cy="258.87" r="1.65" fill="#459d42" stroke="#377e35" stroke-width="0.35"/>
<circle cx="481.03" cy="258.68" r="1.65" fill="#459d42" stroke="#377e35" stroke-width="0.35"/>
<circle cx="483.26" cy="258.49" r="1.65" fill="#459d42" stroke="#377e35" stroke-width="0.35"/>
<circle cx="485.48" cy="258.26" r="1.65" fill="#459d42" stroke="#377e35" stroke-width="0.35"/>
<circle cx="487.70" cy="258.00" r="1.65" fill="#459d42" stroke="#377e35" stroke-width="0.35"/>
<circle cx="489.92" cy="257.69" r="1.65" fill="#459d42" stroke="#377e35" stroke-width="0.35"/>
<circle cx="492.14" cy="257.35" r="1.65" fill="#459d42" stroke="#377e35" stroke-width="0.35"/>
<circle cx="494.37" cy="256.97" r="1.65" fill="#459d42" stroke="#377e35" stroke-width="0.35"/>
<circle cx="496.59" cy="256.51" r="1.65" fill="#459d42" stroke="#377e35" stroke-width="0.35"/>
<circle cx="498.81" cy="255.98" r="1.65" fill="#459d42" stroke="#377e35" stroke-width="0.35"/>
<circle cx="501.03" cy="255.26" r="1.65" fill="#459d42" stroke="#377e35" stroke-width="0.35"/>
<circle cx="503.26" cy="254.38" r="1.65" fill="#459d42" stroke="#377e35" stroke-width="0.35"/>
<circle cx="505.48" cy="253.43" r="1.65" fill="#459d42" stroke="#377e35" stroke-width="0.35"/>
</g>
<rect x="402.7" y="177.1" width="110.00" height="90.2" fill="none" stroke="#575757" stroke-width="1.05"/>
<line x1="400.70" y1="259.90" x2="402.7" y2="259.90" stroke="#262626" stroke-width="1.2"/>
<text x="399.20" y="262.25" font-size="6.5" fill="#1a1a1a" text-anchor="end">0</text>
<line x1="400.70" y1="240.88" x2="402.7" y2="240.88" stroke="#262626" stroke-width="1.2"/>
<text x="399.20" y="243.22" font-size="6.5" fill="#1a1a1a" text-anchor="end">50</text>
<line x1="400.70" y1="221.85" x2="402.7" y2="221.85" stroke="#262626" stroke-width="1.2"/>
<text x="399.20" y="224.20" font-size="6.5" fill="#1a1a1a" text-anchor="end">100</text>
<line x1="400.70" y1="202.82" x2="402.7" y2="202.82" stroke="#262626" stroke-width="1.2"/>
<text x="399.20" y="205.17" font-size="6.5" fill="#1a1a1a" text-anchor="end">150</text>
<line x1="400.70" y1="183.80" x2="402.7" y2="183.80" stroke="#262626" stroke-width="1.2"/>
<text x="399.20" y="186.15" font-size="6.5" fill="#1a1a1a" text-anchor="end">200</text>
<g transform="translate(457.70,0) scale(0.97,1) translate(-457.70,0)">
<text x="457.70" y="164.20" font-size="6.4" fill="#1a1a1a" style="stroke-width:0.2px" text-anchor="middle">Energy consumption</text>
<text x="457.70" y="172.50" font-size="6.4" fill="#1a1a1a" style="stroke-width:0.2px" text-anchor="middle">(Exajoules/yr)</text>
</g>
<text x="404.90" y="170.20" font-size="9.3" fill="#1a1a1a">h.</text>
</g>
<g>
<clipPath id="ci"><rect x="16.5" y="292.75" width="110.3" height="90.2"/></clipPath>
<line x1="16.5" y1="366.59" x2="126.8" y2="366.59" stroke="#f1f1f1" stroke-width="0.6"/>
<line x1="16.5" y1="345.78" x2="126.8" y2="345.78" stroke="#f1f1f1" stroke-width="0.6"/>
<line x1="16.5" y1="324.97" x2="126.8" y2="324.97" stroke="#f1f1f1" stroke-width="0.6"/>
<line x1="16.5" y1="304.16" x2="126.8" y2="304.16" stroke="#f1f1f1" stroke-width="0.6"/>
<line x1="21.51" y1="292.75" x2="21.51" y2="382.95" stroke="#e9e9e9" stroke-width="0.8"/>
<line x1="43.80" y1="292.75" x2="43.80" y2="382.95" stroke="#e9e9e9" stroke-width="0.8"/>
<line x1="66.08" y1="292.75" x2="66.08" y2="382.95" stroke="#e9e9e9" stroke-width="0.8"/>
<line x1="88.36" y1="292.75" x2="88.36" y2="382.95" stroke="#e9e9e9" stroke-width="0.8"/>
<line x1="110.64" y1="292.75" x2="110.64" y2="382.95" stroke="#e9e9e9" stroke-width="0.8"/>
<line x1="16.5" y1="377.00" x2="126.8" y2="377.00" stroke="#e9e9e9" stroke-width="0.8"/>
<line x1="16.5" y1="356.19" x2="126.8" y2="356.19" stroke="#e9e9e9" stroke-width="0.8"/>
<line x1="16.5" y1="335.38" x2="126.8" y2="335.38" stroke="#e9e9e9" stroke-width="0.8"/>
<line x1="16.5" y1="314.56" x2="126.8" y2="314.56" stroke="#e9e9e9" stroke-width="0.8"/>
<line x1="16.5" y1="293.75" x2="126.8" y2="293.75" stroke="#e9e9e9" stroke-width="0.8"/>
<g clip-path="url(#ci)">
<polyline points="88.36,359.70 90.59,353.70 92.82,348.70 95.05,353.10 97.28,357.30 99.50,367.00 101.73,370.70 103.96,367.40 106.19,355.50 108.42,362.80 110.64,376.20 112.87,349.10 115.10,300.70 117.33,346.90" fill="none" stroke="#46a144" stroke-width="1.1" stroke-linejoin="round"/>
<circle cx="88.36" cy="359.70" r="1.65" fill="#459d42" stroke="#377e35" stroke-width="0.35"/>
<circle cx="90.59" cy="353.70" r="1.65" fill="#459d42" stroke="#377e35" stroke-width="0.35"/>
<circle cx="92.82" cy="348.70" r="1.65" fill="#459d42" stroke="#377e35" stroke-width="0.35"/>
<circle cx="95.05" cy="353.10" r="1.65" fill="#459d42" stroke="#377e35" stroke-width="0.35"/>
<circle cx="97.28" cy="357.30" r="1.65" fill="#459d42" stroke="#377e35" stroke-width="0.35"/>
<circle cx="99.50" cy="367.00" r="1.65" fill="#459d42" stroke="#377e35" stroke-width="0.35"/>
<circle cx="101.73" cy="370.70" r="1.65" fill="#459d42" stroke="#377e35" stroke-width="0.35"/>
<circle cx="103.96" cy="367.40" r="1.65" fill="#459d42" stroke="#377e35" stroke-width="0.35"/>
<circle cx="106.19" cy="355.50" r="1.65" fill="#459d42" stroke="#377e35" stroke-width="0.35"/>
<circle cx="108.42" cy="362.80" r="1.65" fill="#459d42" stroke="#377e35" stroke-width="0.35"/>
<circle cx="110.64" cy="376.20" r="1.65" fill="#459d42" stroke="#377e35" stroke-width="0.35"/>
<circle cx="112.87" cy="349.10" r="1.65" fill="#459d42" stroke="#377e35" stroke-width="0.35"/>
<circle cx="115.10" cy="300.70" r="1.65" fill="#459d42" stroke="#377e35" stroke-width="0.35"/>
<circle cx="117.33" cy="346.90" r="1.65" fill="#459d42" stroke="#377e35" stroke-width="0.35"/>
</g>
<rect x="16.5" y="292.75" width="110.30" height="90.2" fill="none" stroke="#575757" stroke-width="1.05"/>
<line x1="14.50" y1="377.00" x2="16.5" y2="377.00" stroke="#262626" stroke-width="1.2"/>
<text x="13.00" y="379.35" font-size="6.5" fill="#1a1a1a" text-anchor="end">250</text>
<line x1="14.50" y1="356.19" x2="16.5" y2="356.19" stroke="#262626" stroke-width="1.2"/>
<text x="13.00" y="358.54" font-size="6.5" fill="#1a1a1a" text-anchor="end">500</text>
<line x1="14.50" y1="335.38" x2="16.5" y2="335.38" stroke="#262626" stroke-width="1.2"/>
<text x="13.00" y="337.73" font-size="6.5" fill="#1a1a1a" text-anchor="end">750</text>
<line x1="14.50" y1="314.56" x2="16.5" y2="314.56" stroke="#262626" stroke-width="1.2"/>
<text x="13.00" y="316.91" font-size="6.5" fill="#1a1a1a" text-anchor="end">1000</text>
<line x1="14.50" y1="293.75" x2="16.5" y2="293.75" stroke="#262626" stroke-width="1.2"/>
<text x="13.00" y="296.10" font-size="6.5" fill="#1a1a1a" text-anchor="end">1250</text>
<g transform="translate(71.65,0) scale(0.97,1) translate(-71.65,0)">
<text x="71.65" y="279.85" font-size="6.4" fill="#1a1a1a" style="stroke-width:0.2px" text-anchor="middle">Fossil fuel subsidies</text>
<text x="71.65" y="288.15" font-size="6.4" fill="#1a1a1a" style="stroke-width:0.2px" text-anchor="middle">(billion USD/yr)</text>
</g>
<text x="18.70" y="285.85" font-size="9.3" fill="#1a1a1a">i.</text>
</g>
<g>
<clipPath id="cj"><rect x="143.5" y="292.75" width="110.1" height="90.2"/></clipPath>
<line x1="143.5" y1="382.50" x2="253.6" y2="382.50" stroke="#f1f1f1" stroke-width="0.6"/>
<line x1="143.5" y1="360.00" x2="253.6" y2="360.00" stroke="#f1f1f1" stroke-width="0.6"/>
<line x1="143.5" y1="337.50" x2="253.6" y2="337.50" stroke="#f1f1f1" stroke-width="0.6"/>
<line x1="143.5" y1="315.00" x2="253.6" y2="315.00" stroke="#f1f1f1" stroke-width="0.6"/>
<line x1="148.50" y1="292.75" x2="148.50" y2="382.95" stroke="#e9e9e9" stroke-width="0.8"/>
<line x1="170.75" y1="292.75" x2="170.75" y2="382.95" stroke="#e9e9e9" stroke-width="0.8"/>
<line x1="192.99" y1="292.75" x2="192.99" y2="382.95" stroke="#e9e9e9" stroke-width="0.8"/>
<line x1="215.23" y1="292.75" x2="215.23" y2="382.95" stroke="#e9e9e9" stroke-width="0.8"/>
<line x1="237.47" y1="292.75" x2="237.47" y2="382.95" stroke="#e9e9e9" stroke-width="0.8"/>
<line x1="143.5" y1="371.25" x2="253.6" y2="371.25" stroke="#e9e9e9" stroke-width="0.8"/>
<line x1="143.5" y1="348.75" x2="253.6" y2="348.75" stroke="#e9e9e9" stroke-width="0.8"/>
<line x1="143.5" y1="326.25" x2="253.6" y2="326.25" stroke="#e9e9e9" stroke-width="0.8"/>
<line x1="143.5" y1="303.75" x2="253.6" y2="303.75" stroke="#e9e9e9" stroke-width="0.8"/>
<g clip-path="url(#cj)">
<polyline points="170.75,376.00 172.97,376.14 175.20,375.85 177.42,375.50 179.64,373.68 181.87,371.69 184.09,369.47 186.32,368.48 188.54,367.76 190.77,366.00 192.99,363.67 195.21,361.35 197.44,357.48 199.66,351.21 201.89,345.01 204.11,339.61 206.33,334.24 208.56,330.39 210.78,331.27 213.01,329.33 215.23,323.84 217.46,320.04 219.68,317.37 221.90,315.55 224.13,315.32 226.35,315.83 228.58,314.60 230.80,312.00 233.03,308.10 235.25,308.10 237.47,317.20 239.70,309.40 241.92,306.80 244.15,303.90 246.37,300.80" fill="none" stroke="#984f24" stroke-width="1.1" stroke-linejoin="round"/>
<circle cx="170.75" cy="376.00" r="1.65" fill="#954d24" stroke="#773d1c" stroke-width="0.35"/>
<circle cx="172.97" cy="376.14" r="1.65" fill="#954d24" stroke="#773d1c" stroke-width="0.35"/>
<circle cx="175.20" cy="375.85" r="1.65" fill="#954d24" stroke="#773d1c" stroke-width="0.35"/>
<circle cx="177.42" cy="375.50" r="1.65" fill="#954d24" stroke="#773d1c" stroke-width="0.35"/>
<circle cx="179.64" cy="373.68" r="1.65" fill="#954d24" stroke="#773d1c" stroke-width="0.35"/>
<circle cx="181.87" cy="371.69" r="1.65" fill="#954d24" stroke="#773d1c" stroke-width="0.35"/>
<circle cx="184.09" cy="369.47" r="1.65" fill="#954d24" stroke="#773d1c" stroke-width="0.35"/>
<circle cx="186.32" cy="368.48" r="1.65" fill="#954d24" stroke="#773d1c" stroke-width="0.35"/>
<circle cx="188.54" cy="367.76" r="1.65" fill="#954d24" stroke="#773d1c" stroke-width="0.35"/>
<circle cx="190.77" cy="366.00" r="1.65" fill="#954d24" stroke="#773d1c" stroke-width="0.35"/>
<circle cx="192.99" cy="363.67" r="1.65" fill="#954d24" stroke="#773d1c" stroke-width="0.35"/>
<circle cx="195.21" cy="361.35" r="1.65" fill="#954d24" stroke="#773d1c" stroke-width="0.35"/>
<circle cx="197.44" cy="357.48" r="1.65" fill="#954d24" stroke="#773d1c" stroke-width="0.35"/>
<circle cx="199.66" cy="351.21" r="1.65" fill="#954d24" stroke="#773d1c" stroke-width="0.35"/>
<circle cx="201.89" cy="345.01" r="1.65" fill="#954d24" stroke="#773d1c" stroke-width="0.35"/>
<circle cx="204.11" cy="339.61" r="1.65" fill="#954d24" stroke="#773d1c" stroke-width="0.35"/>
<circle cx="206.33" cy="334.24" r="1.65" fill="#954d24" stroke="#773d1c" stroke-width="0.35"/>
<circle cx="208.56" cy="330.39" r="1.65" fill="#954d24" stroke="#773d1c" stroke-width="0.35"/>
<circle cx="210.78" cy="331.27" r="1.65" fill="#954d24" stroke="#773d1c" stroke-width="0.35"/>
<circle cx="213.01" cy="329.33" r="1.65" fill="#954d24" stroke="#773d1c" stroke-width="0.35"/>
<circle cx="215.23" cy="323.84" r="1.65" fill="#954d24" stroke="#773d1c" stroke-width="0.35"/>
<circle cx="217.46" cy="320.04" r="1.65" fill="#954d24" stroke="#773d1c" stroke-width="0.35"/>
<circle cx="219.68" cy="317.37" r="1.65" fill="#954d24" stroke="#773d1c" stroke-width="0.35"/>
<circle cx="221.90" cy="315.55" r="1.65" fill="#954d24" stroke="#773d1c" stroke-width="0.35"/>
<circle cx="224.13" cy="315.32" r="1.65" fill="#954d24" stroke="#773d1c" stroke-width="0.35"/>
<circle cx="226.35" cy="315.83" r="1.65" fill="#954d24" stroke="#773d1c" stroke-width="0.35"/>
<circle cx="228.58" cy="314.60" r="1.65" fill="#954d24" stroke="#773d1c" stroke-width="0.35"/>
<circle cx="230.80" cy="312.00" r="1.65" fill="#954d24" stroke="#773d1c" stroke-width="0.35"/>
<circle cx="233.03" cy="308.10" r="1.65" fill="#954d24" stroke="#773d1c" stroke-width="0.35"/>
<circle cx="235.25" cy="308.10" r="1.65" fill="#954d24" stroke="#773d1c" stroke-width="0.35"/>
<circle cx="237.47" cy="317.20" r="1.65" fill="#954d24" stroke="#773d1c" stroke-width="0.35"/>
<circle cx="239.70" cy="309.40" r="1.65" fill="#954d24" stroke="#773d1c" stroke-width="0.35"/>
<circle cx="241.92" cy="306.80" r="1.65" fill="#954d24" stroke="#773d1c" stroke-width="0.35"/>
<circle cx="244.15" cy="303.90" r="1.65" fill="#954d24" stroke="#773d1c" stroke-width="0.35"/>
<circle cx="246.37" cy="300.80" r="1.65" fill="#954d24" stroke="#773d1c" stroke-width="0.35"/>
</g>
<rect x="143.5" y="292.75" width="110.10" height="90.2" fill="none" stroke="#575757" stroke-width="1.05"/>
<line x1="141.50" y1="371.25" x2="143.5" y2="371.25" stroke="#262626" stroke-width="1.2"/>
<text x="140.00" y="373.60" font-size="6.5" fill="#1a1a1a" text-anchor="end">25</text>
<line x1="141.50" y1="348.75" x2="143.5" y2="348.75" stroke="#262626" stroke-width="1.2"/>
<text x="140.00" y="351.10" font-size="6.5" fill="#1a1a1a" text-anchor="end">30</text>
<line x1="141.50" y1="326.25" x2="143.5" y2="326.25" stroke="#262626" stroke-width="1.2"/>
<text x="140.00" y="328.60" font-size="6.5" fill="#1a1a1a" text-anchor="end">35</text>
<line x1="141.50" y1="303.75" x2="143.5" y2="303.75" stroke="#262626" stroke-width="1.2"/>
<text x="140.00" y="306.10" font-size="6.5" fill="#1a1a1a" text-anchor="end">40</text>
<g transform="translate(198.55,0) scale(0.97,1) translate(-198.55,0)">
<text x="198.55" y="279.85" font-size="6.4" fill="#1a1a1a" style="stroke-width:0.2px" text-anchor="middle">CO<tspan font-size="4.3" dy="1.1">2</tspan><tspan dy="-1.1">e emissions (gigatonnes</tspan></text>
<text x="198.55" y="288.15" font-size="6.4" fill="#1a1a1a" style="stroke-width:0.2px" text-anchor="middle">CO<tspan font-size="4.3" dy="1.1">2</tspan><tspan dy="-1.1"> equivalent/yr)</tspan></text>
</g>
<text x="145.70" y="285.85" font-size="9.3" fill="#1a1a1a">j.</text>
</g>
<g>
<clipPath id="ck"><rect x="274.4" y="292.75" width="109.80000000000001" height="90.2"/></clipPath>
<line x1="274.4" y1="366.83" x2="384.2" y2="366.83" stroke="#f1f1f1" stroke-width="0.6"/>
<line x1="274.4" y1="344.50" x2="384.2" y2="344.50" stroke="#f1f1f1" stroke-width="0.6"/>
<line x1="274.4" y1="322.17" x2="384.2" y2="322.17" stroke="#f1f1f1" stroke-width="0.6"/>
<line x1="274.4" y1="299.83" x2="384.2" y2="299.83" stroke="#f1f1f1" stroke-width="0.6"/>
<line x1="279.39" y1="292.75" x2="279.39" y2="382.95" stroke="#e9e9e9" stroke-width="0.8"/>
<line x1="301.57" y1="292.75" x2="301.57" y2="382.95" stroke="#e9e9e9" stroke-width="0.8"/>
<line x1="323.75" y1="292.75" x2="323.75" y2="382.95" stroke="#e9e9e9" stroke-width="0.8"/>
<line x1="345.94" y1="292.75" x2="345.94" y2="382.95" stroke="#e9e9e9" stroke-width="0.8"/>
<line x1="368.12" y1="292.75" x2="368.12" y2="382.95" stroke="#e9e9e9" stroke-width="0.8"/>
<line x1="274.4" y1="378.00" x2="384.2" y2="378.00" stroke="#e9e9e9" stroke-width="0.8"/>
<line x1="274.4" y1="355.67" x2="384.2" y2="355.67" stroke="#e9e9e9" stroke-width="0.8"/>
<line x1="274.4" y1="333.33" x2="384.2" y2="333.33" stroke="#e9e9e9" stroke-width="0.8"/>
<line x1="274.4" y1="311.00" x2="384.2" y2="311.00" stroke="#e9e9e9" stroke-width="0.8"/>
<g clip-path="url(#ck)">
<polyline points="301.57,355.80 303.79,362.20 306.01,367.90 308.23,372.60 310.45,374.80 312.66,373.80 314.88,369.10 317.10,370.90 319.32,375.20 321.54,376.60 323.75,372.10 325.97,370.75 328.19,364.83 330.41,354.40 332.63,338.50 334.85,327.10 337.06,319.00 339.28,308.60 341.50,309.40 343.72,324.10 345.94,310.30 348.15,303.40 350.37,302.20 352.59,300.40 354.81,303.90 357.03,309.40 359.25,314.30 361.46,312.90 363.68,308.10 365.90,310.30 368.12,337.10 370.34,319.80 372.55,317.20 374.77,313.80 376.99,311.50" fill="none" stroke="#984f24" stroke-width="1.1" stroke-linejoin="round"/>
<circle cx="301.57" cy="355.80" r="1.65" fill="#954d24" stroke="#773d1c" stroke-width="0.35"/>
<circle cx="303.79" cy="362.20" r="1.65" fill="#954d24" stroke="#773d1c" stroke-width="0.35"/>
<circle cx="306.01" cy="367.90" r="1.65" fill="#954d24" stroke="#773d1c" stroke-width="0.35"/>
<circle cx="308.23" cy="372.60" r="1.65" fill="#954d24" stroke="#773d1c" stroke-width="0.35"/>
<circle cx="310.45" cy="374.80" r="1.65" fill="#954d24" stroke="#773d1c" stroke-width="0.35"/>
<circle cx="312.66" cy="373.80" r="1.65" fill="#954d24" stroke="#773d1c" stroke-width="0.35"/>
<circle cx="314.88" cy="369.10" r="1.65" fill="#954d24" stroke="#773d1c" stroke-width="0.35"/>
<circle cx="317.10" cy="370.90" r="1.65" fill="#954d24" stroke="#773d1c" stroke-width="0.35"/>
<circle cx="319.32" cy="375.20" r="1.65" fill="#954d24" stroke="#773d1c" stroke-width="0.35"/>
<circle cx="321.54" cy="376.60" r="1.65" fill="#954d24" stroke="#773d1c" stroke-width="0.35"/>
<circle cx="323.75" cy="372.10" r="1.65" fill="#954d24" stroke="#773d1c" stroke-width="0.35"/>
<circle cx="325.97" cy="370.75" r="1.65" fill="#954d24" stroke="#773d1c" stroke-width="0.35"/>
<circle cx="328.19" cy="364.83" r="1.65" fill="#954d24" stroke="#773d1c" stroke-width="0.35"/>
<circle cx="330.41" cy="354.40" r="1.65" fill="#954d24" stroke="#773d1c" stroke-width="0.35"/>
<circle cx="332.63" cy="338.50" r="1.65" fill="#954d24" stroke="#773d1c" stroke-width="0.35"/>
<circle cx="334.85" cy="327.10" r="1.65" fill="#954d24" stroke="#773d1c" stroke-width="0.35"/>
<circle cx="337.06" cy="319.00" r="1.65" fill="#954d24" stroke="#773d1c" stroke-width="0.35"/>
<circle cx="339.28" cy="308.60" r="1.65" fill="#954d24" stroke="#773d1c" stroke-width="0.35"/>
<circle cx="341.50" cy="309.40" r="1.65" fill="#954d24" stroke="#773d1c" stroke-width="0.35"/>
<circle cx="343.72" cy="324.10" r="1.65" fill="#954d24" stroke="#773d1c" stroke-width="0.35"/>
<circle cx="345.94" cy="310.30" r="1.65" fill="#954d24" stroke="#773d1c" stroke-width="0.35"/>
<circle cx="348.15" cy="303.40" r="1.65" fill="#954d24" stroke="#773d1c" stroke-width="0.35"/>
<circle cx="350.37" cy="302.20" r="1.65" fill="#954d24" stroke="#773d1c" stroke-width="0.35"/>
<circle cx="352.59" cy="300.40" r="1.65" fill="#954d24" stroke="#773d1c" stroke-width="0.35"/>
<circle cx="354.81" cy="303.90" r="1.65" fill="#954d24" stroke="#773d1c" stroke-width="0.35"/>
<circle cx="357.03" cy="309.40" r="1.65" fill="#954d24" stroke="#773d1c" stroke-width="0.35"/>
<circle cx="359.25" cy="314.30" r="1.65" fill="#954d24" stroke="#773d1c" stroke-width="0.35"/>
<circle cx="361.46" cy="312.90" r="1.65" fill="#954d24" stroke="#773d1c" stroke-width="0.35"/>
<circle cx="363.68" cy="308.10" r="1.65" fill="#954d24" stroke="#773d1c" stroke-width="0.35"/>
<circle cx="365.90" cy="310.30" r="1.65" fill="#954d24" stroke="#773d1c" stroke-width="0.35"/>
<circle cx="368.12" cy="337.10" r="1.65" fill="#954d24" stroke="#773d1c" stroke-width="0.35"/>
<circle cx="370.34" cy="319.80" r="1.65" fill="#954d24" stroke="#773d1c" stroke-width="0.35"/>
<circle cx="372.55" cy="317.20" r="1.65" fill="#954d24" stroke="#773d1c" stroke-width="0.35"/>
<circle cx="374.77" cy="313.80" r="1.65" fill="#954d24" stroke="#773d1c" stroke-width="0.35"/>
<circle cx="376.99" cy="311.50" r="1.65" fill="#954d24" stroke="#773d1c" stroke-width="0.35"/>
</g>
<rect x="274.4" y="292.75" width="109.80" height="90.2" fill="none" stroke="#575757" stroke-width="1.05"/>
<line x1="272.40" y1="378.00" x2="274.4" y2="378.00" stroke="#262626" stroke-width="1.2"/>
<text x="270.90" y="380.35" font-size="6.5" fill="#1a1a1a" text-anchor="end">4.25</text>
<line x1="272.40" y1="355.67" x2="274.4" y2="355.67" stroke="#262626" stroke-width="1.2"/>
<text x="270.90" y="358.02" font-size="6.5" fill="#1a1a1a" text-anchor="end">4.50</text>
<line x1="272.40" y1="333.33" x2="274.4" y2="333.33" stroke="#262626" stroke-width="1.2"/>
<text x="270.90" y="335.68" font-size="6.5" fill="#1a1a1a" text-anchor="end">4.75</text>
<line x1="272.40" y1="311.00" x2="274.4" y2="311.00" stroke="#262626" stroke-width="1.2"/>
<text x="270.90" y="313.35" font-size="6.5" fill="#1a1a1a" text-anchor="end">5.00</text>
<g transform="translate(329.30,0) scale(0.97,1) translate(-329.30,0)">
<text x="329.30" y="279.85" font-size="6.4" fill="#1a1a1a" style="stroke-width:0.2px" text-anchor="middle">Per capita CO<tspan font-size="4.3" dy="1.1">2</tspan><tspan dy="-1.1">e emissions</tspan></text>
<text x="329.30" y="288.15" font-size="6.4" fill="#1a1a1a" style="stroke-width:0.2px" text-anchor="middle">(tonnes CO<tspan font-size="4.3" dy="1.1">2</tspan><tspan dy="-1.1"> equivalent/yr)</tspan></text>
</g>
<text x="276.60" y="285.85" font-size="9.3" fill="#1a1a1a">k.</text>
</g>
<g>
<clipPath id="cl"><rect x="402.7" y="292.75" width="110.00000000000006" height="90.2"/></clipPath>
<line x1="402.7" y1="363.46" x2="512.7" y2="363.46" stroke="#f1f1f1" stroke-width="0.6"/>
<line x1="402.7" y1="336.38" x2="512.7" y2="336.38" stroke="#f1f1f1" stroke-width="0.6"/>
<line x1="402.7" y1="309.29" x2="512.7" y2="309.29" stroke="#f1f1f1" stroke-width="0.6"/>
<line x1="407.70" y1="292.75" x2="407.70" y2="382.95" stroke="#e9e9e9" stroke-width="0.8"/>
<line x1="429.92" y1="292.75" x2="429.92" y2="382.95" stroke="#e9e9e9" stroke-width="0.8"/>
<line x1="452.14" y1="292.75" x2="452.14" y2="382.95" stroke="#e9e9e9" stroke-width="0.8"/>
<line x1="474.37" y1="292.75" x2="474.37" y2="382.95" stroke="#e9e9e9" stroke-width="0.8"/>
<line x1="496.59" y1="292.75" x2="496.59" y2="382.95" stroke="#e9e9e9" stroke-width="0.8"/>
<line x1="402.7" y1="377.00" x2="512.7" y2="377.00" stroke="#e9e9e9" stroke-width="0.8"/>
<line x1="402.7" y1="349.92" x2="512.7" y2="349.92" stroke="#e9e9e9" stroke-width="0.8"/>
<line x1="402.7" y1="322.83" x2="512.7" y2="322.83" stroke="#e9e9e9" stroke-width="0.8"/>
<line x1="402.7" y1="295.75" x2="512.7" y2="295.75" stroke="#e9e9e9" stroke-width="0.8"/>
<g clip-path="url(#cl)">
<polyline points="429.92,376.50 432.14,376.00 434.37,375.80 436.59,375.60 438.81,375.50 441.03,375.40 443.26,375.40 445.48,375.40 447.70,375.50 449.92,375.60 452.14,375.70 454.37,375.80 456.59,375.90 458.81,375.90 461.03,376.00 463.26,362.40 465.48,362.40 467.70,362.40 469.92,362.40 472.14,362.40 474.37,362.40 476.59,362.40 478.81,353.70 481.03,350.60 483.26,348.70 485.48,346.40 487.70,345.40 489.92,344.50 492.14,345.40 494.37,340.90 496.59,340.30 498.81,314.00 501.03,314.40 503.26,314.00 505.48,300.60 507.70,303.00" fill="none" stroke="#e376af" stroke-width="1.1" stroke-linejoin="round"/>
<circle cx="429.92" cy="376.50" r="1.65" fill="#de74ab" stroke="#b15c89" stroke-width="0.35"/>
<circle cx="432.14" cy="376.00" r="1.65" fill="#de74ab" stroke="#b15c89" stroke-width="0.35"/>
<circle cx="434.37" cy="375.80" r="1.65" fill="#de74ab" stroke="#b15c89" stroke-width="0.35"/>
<circle cx="436.59" cy="375.60" r="1.65" fill="#de74ab" stroke="#b15c89" stroke-width="0.35"/>
<circle cx="438.81" cy="375.50" r="1.65" fill="#de74ab" stroke="#b15c89" stroke-width="0.35"/>
<circle cx="441.03" cy="375.40" r="1.65" fill="#de74ab" stroke="#b15c89" stroke-width="0.35"/>
<circle cx="443.26" cy="375.40" r="1.65" fill="#de74ab" stroke="#b15c89" stroke-width="0.35"/>
<circle cx="445.48" cy="375.40" r="1.65" fill="#de74ab" stroke="#b15c89" stroke-width="0.35"/>
<circle cx="447.70" cy="375.50" r="1.65" fill="#de74ab" stroke="#b15c89" stroke-width="0.35"/>
<circle cx="449.92" cy="375.60" r="1.65" fill="#de74ab" stroke="#b15c89" stroke-width="0.35"/>
<circle cx="452.14" cy="375.70" r="1.65" fill="#de74ab" stroke="#b15c89" stroke-width="0.35"/>
<circle cx="454.37" cy="375.80" r="1.65" fill="#de74ab" stroke="#b15c89" stroke-width="0.35"/>
<circle cx="456.59" cy="375.90" r="1.65" fill="#de74ab" stroke="#b15c89" stroke-width="0.35"/>
<circle cx="458.81" cy="375.90" r="1.65" fill="#de74ab" stroke="#b15c89" stroke-width="0.35"/>
<circle cx="461.03" cy="376.00" r="1.65" fill="#de74ab" stroke="#b15c89" stroke-width="0.35"/>
<circle cx="463.26" cy="362.40" r="1.65" fill="#de74ab" stroke="#b15c89" stroke-width="0.35"/>
<circle cx="465.48" cy="362.40" r="1.65" fill="#de74ab" stroke="#b15c89" stroke-width="0.35"/>
<circle cx="467.70" cy="362.40" r="1.65" fill="#de74ab" stroke="#b15c89" stroke-width="0.35"/>
<circle cx="469.92" cy="362.40" r="1.65" fill="#de74ab" stroke="#b15c89" stroke-width="0.35"/>
<circle cx="472.14" cy="362.40" r="1.65" fill="#de74ab" stroke="#b15c89" stroke-width="0.35"/>
<circle cx="474.37" cy="362.40" r="1.65" fill="#de74ab" stroke="#b15c89" stroke-width="0.35"/>
<circle cx="476.59" cy="362.40" r="1.65" fill="#de74ab" stroke="#b15c89" stroke-width="0.35"/>
<circle cx="478.81" cy="353.70" r="1.65" fill="#de74ab" stroke="#b15c89" stroke-width="0.35"/>
<circle cx="481.03" cy="350.60" r="1.65" fill="#de74ab" stroke="#b15c89" stroke-width="0.35"/>
<circle cx="483.26" cy="348.70" r="1.65" fill="#de74ab" stroke="#b15c89" stroke-width="0.35"/>
<circle cx="485.48" cy="346.40" r="1.65" fill="#de74ab" stroke="#b15c89" stroke-width="0.35"/>
<circle cx="487.70" cy="345.40" r="1.65" fill="#de74ab" stroke="#b15c89" stroke-width="0.35"/>
<circle cx="489.92" cy="344.50" r="1.65" fill="#de74ab" stroke="#b15c89" stroke-width="0.35"/>
<circle cx="492.14" cy="345.40" r="1.65" fill="#de74ab" stroke="#b15c89" stroke-width="0.35"/>
<circle cx="494.37" cy="340.90" r="1.65" fill="#de74ab" stroke="#b15c89" stroke-width="0.35"/>
<circle cx="496.59" cy="340.30" r="1.65" fill="#de74ab" stroke="#b15c89" stroke-width="0.35"/>
<circle cx="498.81" cy="314.00" r="1.65" fill="#de74ab" stroke="#b15c89" stroke-width="0.35"/>
<circle cx="501.03" cy="314.40" r="1.65" fill="#de74ab" stroke="#b15c89" stroke-width="0.35"/>
<circle cx="503.26" cy="314.00" r="1.65" fill="#de74ab" stroke="#b15c89" stroke-width="0.35"/>
<circle cx="505.48" cy="300.60" r="1.65" fill="#de74ab" stroke="#b15c89" stroke-width="0.35"/>
<circle cx="507.70" cy="303.00" r="1.65" fill="#de74ab" stroke="#b15c89" stroke-width="0.35"/>
</g>
<rect x="402.7" y="292.75" width="110.00" height="90.2" fill="none" stroke="#575757" stroke-width="1.05"/>
<line x1="400.70" y1="377.00" x2="402.7" y2="377.00" stroke="#262626" stroke-width="1.2"/>
<text x="399.20" y="379.35" font-size="6.5" fill="#1a1a1a" text-anchor="end">0</text>
<line x1="400.70" y1="349.92" x2="402.7" y2="349.92" stroke="#262626" stroke-width="1.2"/>
<text x="399.20" y="352.27" font-size="6.5" fill="#1a1a1a" text-anchor="end">10</text>
<line x1="400.70" y1="322.83" x2="402.7" y2="322.83" stroke="#262626" stroke-width="1.2"/>
<text x="399.20" y="325.18" font-size="6.5" fill="#1a1a1a" text-anchor="end">20</text>
<line x1="400.70" y1="295.75" x2="402.7" y2="295.75" stroke="#262626" stroke-width="1.2"/>
<text x="399.20" y="298.10" font-size="6.5" fill="#1a1a1a" text-anchor="end">30</text>
<line x1="407.70" y1="382.95" x2="407.70" y2="384.95" stroke="#262626" stroke-width="1.2"/>
<text x="407.70" y="392.15" font-size="6.5" fill="#1a1a1a" text-anchor="middle">1980</text>
<line x1="429.92" y1="382.95" x2="429.92" y2="384.95" stroke="#262626" stroke-width="1.2"/>
<text x="429.92" y="392.15" font-size="6.5" fill="#1a1a1a" text-anchor="middle">1990</text>
<line x1="452.14" y1="382.95" x2="452.14" y2="384.95" stroke="#262626" stroke-width="1.2"/>
<text x="452.14" y="392.15" font-size="6.5" fill="#1a1a1a" text-anchor="middle">2000</text>
<line x1="474.37" y1="382.95" x2="474.37" y2="384.95" stroke="#262626" stroke-width="1.2"/>
<text x="474.37" y="392.15" font-size="6.5" fill="#1a1a1a" text-anchor="middle">2010</text>
<line x1="496.59" y1="382.95" x2="496.59" y2="384.95" stroke="#262626" stroke-width="1.2"/>
<text x="496.59" y="392.15" font-size="6.5" fill="#1a1a1a" text-anchor="middle">2020</text>
<g transform="translate(457.70,0) scale(0.97,1) translate(-457.70,0)">
<text x="457.70" y="279.85" font-size="6.4" fill="#1a1a1a" style="stroke-width:0.2px" text-anchor="middle">GHG emissions covered</text>
<text x="457.70" y="288.15" font-size="6.4" fill="#1a1a1a" style="stroke-width:0.2px" text-anchor="middle">by carbon pricing (%)</text>
</g>
<text x="404.90" y="285.85" font-size="9.3" fill="#1a1a1a">l.</text>
</g>
<g>
<clipPath id="cm"><rect x="16.5" y="408.4" width="110.3" height="90.2"/></clipPath>
<line x1="16.5" y1="486.34" x2="126.8" y2="486.34" stroke="#f1f1f1" stroke-width="0.6"/>
<line x1="16.5" y1="466.53" x2="126.8" y2="466.53" stroke="#f1f1f1" stroke-width="0.6"/>
<line x1="16.5" y1="446.72" x2="126.8" y2="446.72" stroke="#f1f1f1" stroke-width="0.6"/>
<line x1="16.5" y1="426.91" x2="126.8" y2="426.91" stroke="#f1f1f1" stroke-width="0.6"/>
<line x1="21.51" y1="408.4" x2="21.51" y2="498.60" stroke="#e9e9e9" stroke-width="0.8"/>
<line x1="43.80" y1="408.4" x2="43.80" y2="498.60" stroke="#e9e9e9" stroke-width="0.8"/>
<line x1="66.08" y1="408.4" x2="66.08" y2="498.60" stroke="#e9e9e9" stroke-width="0.8"/>
<line x1="88.36" y1="408.4" x2="88.36" y2="498.60" stroke="#e9e9e9" stroke-width="0.8"/>
<line x1="110.64" y1="408.4" x2="110.64" y2="498.60" stroke="#e9e9e9" stroke-width="0.8"/>
<line x1="16.5" y1="496.25" x2="126.8" y2="496.25" stroke="#e9e9e9" stroke-width="0.8"/>
<line x1="16.5" y1="476.44" x2="126.8" y2="476.44" stroke="#e9e9e9" stroke-width="0.8"/>
<line x1="16.5" y1="456.62" x2="126.8" y2="456.62" stroke="#e9e9e9" stroke-width="0.8"/>
<line x1="16.5" y1="436.81" x2="126.8" y2="436.81" stroke="#e9e9e9" stroke-width="0.8"/>
<line x1="16.5" y1="417.00" x2="126.8" y2="417.00" stroke="#e9e9e9" stroke-width="0.8"/>
<g clip-path="url(#cm)">
<polyline points="52.71,469.80 54.94,466.40 57.17,465.50 59.39,416.20 61.62,468.00 63.85,473.50 66.08,474.00 68.31,477.10 70.54,475.50 72.76,468.00 74.99,463.10 77.22,476.80 79.45,464.90 81.68,491.70 83.91,464.90 86.13,480.80 88.36,479.50 90.59,473.10 92.82,485.90 95.05,488.60 97.28,487.40 99.50,488.60 101.73,489.90 103.96,487.40 106.19,483.20 108.42,480.80 110.64,482.60 112.87,477.10 115.10,474.60 117.33,474.90 119.56,477.90 121.79,477.90" fill="none" stroke="#e376af" stroke-width="1.1" stroke-linejoin="round"/>
<circle cx="52.71" cy="469.80" r="1.65" fill="#de74ab" stroke="#b15c89" stroke-width="0.35"/>
<circle cx="54.94" cy="466.40" r="1.65" fill="#de74ab" stroke="#b15c89" stroke-width="0.35"/>
<circle cx="57.17" cy="465.50" r="1.65" fill="#de74ab" stroke="#b15c89" stroke-width="0.35"/>
<circle cx="59.39" cy="416.20" r="1.65" fill="#de74ab" stroke="#b15c89" stroke-width="0.35"/>
<circle cx="61.62" cy="468.00" r="1.65" fill="#de74ab" stroke="#b15c89" stroke-width="0.35"/>
<circle cx="63.85" cy="473.50" r="1.65" fill="#de74ab" stroke="#b15c89" stroke-width="0.35"/>
<circle cx="66.08" cy="474.00" r="1.65" fill="#de74ab" stroke="#b15c89" stroke-width="0.35"/>
<circle cx="68.31" cy="477.10" r="1.65" fill="#de74ab" stroke="#b15c89" stroke-width="0.35"/>
<circle cx="70.54" cy="475.50" r="1.65" fill="#de74ab" stroke="#b15c89" stroke-width="0.35"/>
<circle cx="72.76" cy="468.00" r="1.65" fill="#de74ab" stroke="#b15c89" stroke-width="0.35"/>
<circle cx="74.99" cy="463.10" r="1.65" fill="#de74ab" stroke="#b15c89" stroke-width="0.35"/>
<circle cx="77.22" cy="476.80" r="1.65" fill="#de74ab" stroke="#b15c89" stroke-width="0.35"/>
<circle cx="79.45" cy="464.90" r="1.65" fill="#de74ab" stroke="#b15c89" stroke-width="0.35"/>
<circle cx="81.68" cy="491.70" r="1.65" fill="#de74ab" stroke="#b15c89" stroke-width="0.35"/>
<circle cx="83.91" cy="464.90" r="1.65" fill="#de74ab" stroke="#b15c89" stroke-width="0.35"/>
<circle cx="86.13" cy="480.80" r="1.65" fill="#de74ab" stroke="#b15c89" stroke-width="0.35"/>
<circle cx="88.36" cy="479.50" r="1.65" fill="#de74ab" stroke="#b15c89" stroke-width="0.35"/>
<circle cx="90.59" cy="473.10" r="1.65" fill="#de74ab" stroke="#b15c89" stroke-width="0.35"/>
<circle cx="92.82" cy="485.90" r="1.65" fill="#de74ab" stroke="#b15c89" stroke-width="0.35"/>
<circle cx="95.05" cy="488.60" r="1.65" fill="#de74ab" stroke="#b15c89" stroke-width="0.35"/>
<circle cx="97.28" cy="487.40" r="1.65" fill="#de74ab" stroke="#b15c89" stroke-width="0.35"/>
<circle cx="99.50" cy="488.60" r="1.65" fill="#de74ab" stroke="#b15c89" stroke-width="0.35"/>
<circle cx="101.73" cy="489.90" r="1.65" fill="#de74ab" stroke="#b15c89" stroke-width="0.35"/>
<circle cx="103.96" cy="487.40" r="1.65" fill="#de74ab" stroke="#b15c89" stroke-width="0.35"/>
<circle cx="106.19" cy="483.20" r="1.65" fill="#de74ab" stroke="#b15c89" stroke-width="0.35"/>
<circle cx="108.42" cy="480.80" r="1.65" fill="#de74ab" stroke="#b15c89" stroke-width="0.35"/>
<circle cx="110.64" cy="482.60" r="1.65" fill="#de74ab" stroke="#b15c89" stroke-width="0.35"/>
<circle cx="112.87" cy="477.10" r="1.65" fill="#de74ab" stroke="#b15c89" stroke-width="0.35"/>
<circle cx="115.10" cy="474.60" r="1.65" fill="#de74ab" stroke="#b15c89" stroke-width="0.35"/>
<circle cx="117.33" cy="474.90" r="1.65" fill="#de74ab" stroke="#b15c89" stroke-width="0.35"/>
<circle cx="119.56" cy="477.90" r="1.65" fill="#de74ab" stroke="#b15c89" stroke-width="0.35"/>
<circle cx="121.79" cy="477.90" r="1.65" fill="#de74ab" stroke="#b15c89" stroke-width="0.35"/>
</g>
<rect x="16.5" y="408.4" width="110.30" height="90.2" fill="none" stroke="#575757" stroke-width="1.05"/>
<line x1="14.50" y1="496.25" x2="16.5" y2="496.25" stroke="#262626" stroke-width="1.2"/>
<text x="13.00" y="498.60" font-size="6.5" fill="#1a1a1a" text-anchor="end">0</text>
<line x1="14.50" y1="476.44" x2="16.5" y2="476.44" stroke="#262626" stroke-width="1.2"/>
<text x="13.00" y="478.79" font-size="6.5" fill="#1a1a1a" text-anchor="end">20</text>
<line x1="14.50" y1="456.62" x2="16.5" y2="456.62" stroke="#262626" stroke-width="1.2"/>
<text x="13.00" y="458.98" font-size="6.5" fill="#1a1a1a" text-anchor="end">40</text>
<line x1="14.50" y1="436.81" x2="16.5" y2="436.81" stroke="#262626" stroke-width="1.2"/>
<text x="13.00" y="439.16" font-size="6.5" fill="#1a1a1a" text-anchor="end">60</text>
<line x1="14.50" y1="417.00" x2="16.5" y2="417.00" stroke="#262626" stroke-width="1.2"/>
<text x="13.00" y="419.35" font-size="6.5" fill="#1a1a1a" text-anchor="end">80</text>
<line x1="21.51" y1="498.59999999999997" x2="21.51" y2="500.60" stroke="#262626" stroke-width="1.2"/>
<text x="21.51" y="507.80" font-size="6.5" fill="#1a1a1a" text-anchor="middle">1980</text>
<line x1="43.80" y1="498.59999999999997" x2="43.80" y2="500.60" stroke="#262626" stroke-width="1.2"/>
<text x="43.80" y="507.80" font-size="6.5" fill="#1a1a1a" text-anchor="middle">1990</text>
<line x1="66.08" y1="498.59999999999997" x2="66.08" y2="500.60" stroke="#262626" stroke-width="1.2"/>
<text x="66.08" y="507.80" font-size="6.5" fill="#1a1a1a" text-anchor="middle">2000</text>
<line x1="88.36" y1="498.59999999999997" x2="88.36" y2="500.60" stroke="#262626" stroke-width="1.2"/>
<text x="88.36" y="507.80" font-size="6.5" fill="#1a1a1a" text-anchor="middle">2010</text>
<line x1="110.64" y1="498.59999999999997" x2="110.64" y2="500.60" stroke="#262626" stroke-width="1.2"/>
<text x="110.64" y="507.80" font-size="6.5" fill="#1a1a1a" text-anchor="middle">2020</text>
<g transform="translate(71.65,0) scale(0.97,1) translate(-71.65,0)">
<text x="71.65" y="395.50" font-size="6.4" fill="#1a1a1a" style="stroke-width:0.2px" text-anchor="middle">Carbon price ($ per</text>
<text x="71.65" y="403.80" font-size="6.4" fill="#1a1a1a" style="stroke-width:0.2px" text-anchor="middle">tonne CO<tspan font-size="4.3" dy="1.1">2</tspan><tspan dy="-1.1"> emissions)</tspan></text>
</g>
<text x="18.70" y="401.50" font-size="9.3" fill="#1a1a1a">m.</text>
</g>
<g>
<clipPath id="cn"><rect x="143.5" y="408.4" width="110.1" height="90.2"/></clipPath>
<line x1="143.5" y1="481.97" x2="253.6" y2="481.97" stroke="#f1f1f1" stroke-width="0.6"/>
<line x1="143.5" y1="463.41" x2="253.6" y2="463.41" stroke="#f1f1f1" stroke-width="0.6"/>
<line x1="143.5" y1="444.84" x2="253.6" y2="444.84" stroke="#f1f1f1" stroke-width="0.6"/>
<line x1="143.5" y1="426.28" x2="253.6" y2="426.28" stroke="#f1f1f1" stroke-width="0.6"/>
<line x1="148.50" y1="408.4" x2="148.50" y2="498.60" stroke="#e9e9e9" stroke-width="0.8"/>
<line x1="170.75" y1="408.4" x2="170.75" y2="498.60" stroke="#e9e9e9" stroke-width="0.8"/>
<line x1="192.99" y1="408.4" x2="192.99" y2="498.60" stroke="#e9e9e9" stroke-width="0.8"/>
<line x1="215.23" y1="408.4" x2="215.23" y2="498.60" stroke="#e9e9e9" stroke-width="0.8"/>
<line x1="237.47" y1="408.4" x2="237.47" y2="498.60" stroke="#e9e9e9" stroke-width="0.8"/>
<line x1="143.5" y1="491.25" x2="253.6" y2="491.25" stroke="#e9e9e9" stroke-width="0.8"/>
<line x1="143.5" y1="472.69" x2="253.6" y2="472.69" stroke="#e9e9e9" stroke-width="0.8"/>
<line x1="143.5" y1="454.12" x2="253.6" y2="454.12" stroke="#e9e9e9" stroke-width="0.8"/>
<line x1="143.5" y1="435.56" x2="253.6" y2="435.56" stroke="#e9e9e9" stroke-width="0.8"/>
<line x1="143.5" y1="417.00" x2="253.6" y2="417.00" stroke="#e9e9e9" stroke-width="0.8"/>
<g clip-path="url(#cn)">
<polyline points="219.68,492.10 221.90,492.10 224.13,492.10 226.35,487.30 228.58,483.30 230.80,482.00 233.03,478.20 235.25,470.90 237.47,465.00 239.70,417.80 241.92,416.60 244.15,416.60" fill="none" stroke="#e376af" stroke-width="1.1" stroke-linejoin="round"/>
<circle cx="219.68" cy="492.10" r="1.65" fill="#de74ab" stroke="#b15c89" stroke-width="0.35"/>
<circle cx="221.90" cy="492.10" r="1.65" fill="#de74ab" stroke="#b15c89" stroke-width="0.35"/>
<circle cx="224.13" cy="492.10" r="1.65" fill="#de74ab" stroke="#b15c89" stroke-width="0.35"/>
<circle cx="226.35" cy="487.30" r="1.65" fill="#de74ab" stroke="#b15c89" stroke-width="0.35"/>
<circle cx="228.58" cy="483.30" r="1.65" fill="#de74ab" stroke="#b15c89" stroke-width="0.35"/>
<circle cx="230.80" cy="482.00" r="1.65" fill="#de74ab" stroke="#b15c89" stroke-width="0.35"/>
<circle cx="233.03" cy="478.20" r="1.65" fill="#de74ab" stroke="#b15c89" stroke-width="0.35"/>
<circle cx="235.25" cy="470.90" r="1.65" fill="#de74ab" stroke="#b15c89" stroke-width="0.35"/>
<circle cx="237.47" cy="465.00" r="1.65" fill="#de74ab" stroke="#b15c89" stroke-width="0.35"/>
<circle cx="239.70" cy="417.80" r="1.65" fill="#de74ab" stroke="#b15c89" stroke-width="0.35"/>
<circle cx="241.92" cy="416.60" r="1.65" fill="#de74ab" stroke="#b15c89" stroke-width="0.35"/>
<circle cx="244.15" cy="416.60" r="1.65" fill="#de74ab" stroke="#b15c89" stroke-width="0.35"/>
</g>
<rect x="143.5" y="408.4" width="110.10" height="90.2" fill="none" stroke="#575757" stroke-width="1.05"/>
<line x1="141.50" y1="491.25" x2="143.5" y2="491.25" stroke="#262626" stroke-width="1.2"/>
<text x="140.00" y="493.60" font-size="6.5" fill="#1a1a1a" text-anchor="end">0</text>
<line x1="141.50" y1="472.69" x2="143.5" y2="472.69" stroke="#262626" stroke-width="1.2"/>
<text x="140.00" y="475.04" font-size="6.5" fill="#1a1a1a" text-anchor="end">10</text>
<line x1="141.50" y1="454.12" x2="143.5" y2="454.12" stroke="#262626" stroke-width="1.2"/>
<text x="140.00" y="456.48" font-size="6.5" fill="#1a1a1a" text-anchor="end">20</text>
<line x1="141.50" y1="435.56" x2="143.5" y2="435.56" stroke="#262626" stroke-width="1.2"/>
<text x="140.00" y="437.91" font-size="6.5" fill="#1a1a1a" text-anchor="end">30</text>
<line x1="141.50" y1="417.00" x2="143.5" y2="417.00" stroke="#262626" stroke-width="1.2"/>
<text x="140.00" y="419.35" font-size="6.5" fill="#1a1a1a" text-anchor="end">40</text>
<line x1="148.50" y1="498.59999999999997" x2="148.50" y2="500.60" stroke="#262626" stroke-width="1.2"/>
<text x="148.50" y="507.80" font-size="6.5" fill="#1a1a1a" text-anchor="middle">1980</text>
<line x1="170.75" y1="498.59999999999997" x2="170.75" y2="500.60" stroke="#262626" stroke-width="1.2"/>
<text x="170.75" y="507.80" font-size="6.5" fill="#1a1a1a" text-anchor="middle">1990</text>
<line x1="192.99" y1="498.59999999999997" x2="192.99" y2="500.60" stroke="#262626" stroke-width="1.2"/>
<text x="192.99" y="507.80" font-size="6.5" fill="#1a1a1a" text-anchor="middle">2000</text>
<line x1="215.23" y1="498.59999999999997" x2="215.23" y2="500.60" stroke="#262626" stroke-width="1.2"/>
<text x="215.23" y="507.80" font-size="6.5" fill="#1a1a1a" text-anchor="middle">2010</text>
<line x1="237.47" y1="498.59999999999997" x2="237.47" y2="500.60" stroke="#262626" stroke-width="1.2"/>
<text x="237.47" y="507.80" font-size="6.5" fill="#1a1a1a" text-anchor="middle">2020</text>
<g transform="translate(198.55,0) scale(0.97,1) translate(-198.55,0)">
<text x="198.55" y="395.50" font-size="6.4" fill="#1a1a1a" style="stroke-width:0.2px" text-anchor="middle">Total assets committed to fossil</text>
<text x="198.55" y="403.80" font-size="6.4" fill="#1a1a1a" style="stroke-width:0.2px" text-anchor="middle">fuel divestment (trillion USD)</text>
</g>
<text x="145.70" y="401.50" font-size="9.3" fill="#1a1a1a">n.</text>
</g>
<g>
<clipPath id="co"><rect x="274.4" y="408.4" width="109.80000000000001" height="90.2"/></clipPath>
<line x1="274.4" y1="483.38" x2="384.2" y2="483.38" stroke="#f1f1f1" stroke-width="0.6"/>
<line x1="274.4" y1="467.54" x2="384.2" y2="467.54" stroke="#f1f1f1" stroke-width="0.6"/>
<line x1="274.4" y1="451.70" x2="384.2" y2="451.70" stroke="#f1f1f1" stroke-width="0.6"/>
<line x1="274.4" y1="435.86" x2="384.2" y2="435.86" stroke="#f1f1f1" stroke-width="0.6"/>
<line x1="274.4" y1="420.02" x2="384.2" y2="420.02" stroke="#f1f1f1" stroke-width="0.6"/>
<line x1="279.39" y1="408.4" x2="279.39" y2="498.60" stroke="#e9e9e9" stroke-width="0.8"/>
<line x1="301.57" y1="408.4" x2="301.57" y2="498.60" stroke="#e9e9e9" stroke-width="0.8"/>
<line x1="323.75" y1="408.4" x2="323.75" y2="498.60" stroke="#e9e9e9" stroke-width="0.8"/>
<line x1="345.94" y1="408.4" x2="345.94" y2="498.60" stroke="#e9e9e9" stroke-width="0.8"/>
<line x1="368.12" y1="408.4" x2="368.12" y2="498.60" stroke="#e9e9e9" stroke-width="0.8"/>
<line x1="274.4" y1="491.30" x2="384.2" y2="491.30" stroke="#e9e9e9" stroke-width="0.8"/>
<line x1="274.4" y1="475.46" x2="384.2" y2="475.46" stroke="#e9e9e9" stroke-width="0.8"/>
<line x1="274.4" y1="459.62" x2="384.2" y2="459.62" stroke="#e9e9e9" stroke-width="0.8"/>
<line x1="274.4" y1="443.78" x2="384.2" y2="443.78" stroke="#e9e9e9" stroke-width="0.8"/>
<line x1="274.4" y1="427.94" x2="384.2" y2="427.94" stroke="#e9e9e9" stroke-width="0.8"/>
<line x1="274.4" y1="412.10" x2="384.2" y2="412.10" stroke="#e9e9e9" stroke-width="0.8"/>
<g clip-path="url(#co)">
<polyline points="359.25,492.10 361.46,492.10 363.68,486.00 365.90,443.60 368.12,429.00 370.34,419.90 372.55,417.50 374.77,416.60 376.99,416.20" fill="none" stroke="#e376af" stroke-width="1.1" stroke-linejoin="round"/>
<circle cx="359.25" cy="492.10" r="1.65" fill="#de74ab" stroke="#b15c89" stroke-width="0.35"/>
<circle cx="361.46" cy="492.10" r="1.65" fill="#de74ab" stroke="#b15c89" stroke-width="0.35"/>
<circle cx="363.68" cy="486.00" r="1.65" fill="#de74ab" stroke="#b15c89" stroke-width="0.35"/>
<circle cx="365.90" cy="443.60" r="1.65" fill="#de74ab" stroke="#b15c89" stroke-width="0.35"/>
<circle cx="368.12" cy="429.00" r="1.65" fill="#de74ab" stroke="#b15c89" stroke-width="0.35"/>
<circle cx="370.34" cy="419.90" r="1.65" fill="#de74ab" stroke="#b15c89" stroke-width="0.35"/>
<circle cx="372.55" cy="417.50" r="1.65" fill="#de74ab" stroke="#b15c89" stroke-width="0.35"/>
<circle cx="374.77" cy="416.60" r="1.65" fill="#de74ab" stroke="#b15c89" stroke-width="0.35"/>
<circle cx="376.99" cy="416.20" r="1.65" fill="#de74ab" stroke="#b15c89" stroke-width="0.35"/>
</g>
<rect x="274.4" y="408.4" width="109.80" height="90.2" fill="none" stroke="#575757" stroke-width="1.05"/>
<line x1="272.40" y1="491.30" x2="274.4" y2="491.30" stroke="#262626" stroke-width="1.2"/>
<text x="270.90" y="493.65" font-size="6.5" fill="#1a1a1a" text-anchor="end">0</text>
<line x1="272.40" y1="475.46" x2="274.4" y2="475.46" stroke="#262626" stroke-width="1.2"/>
<text x="270.90" y="477.81" font-size="6.5" fill="#1a1a1a" text-anchor="end">500</text>
<line x1="272.40" y1="459.62" x2="274.4" y2="459.62" stroke="#262626" stroke-width="1.2"/>
<text x="270.90" y="461.97" font-size="6.5" fill="#1a1a1a" text-anchor="end">1000</text>
<line x1="272.40" y1="443.78" x2="274.4" y2="443.78" stroke="#262626" stroke-width="1.2"/>
<text x="270.90" y="446.13" font-size="6.5" fill="#1a1a1a" text-anchor="end">1500</text>
<line x1="272.40" y1="427.94" x2="274.4" y2="427.94" stroke="#262626" stroke-width="1.2"/>
<text x="270.90" y="430.29" font-size="6.5" fill="#1a1a1a" text-anchor="end">2000</text>
<line x1="272.40" y1="412.10" x2="274.4" y2="412.10" stroke="#262626" stroke-width="1.2"/>
<text x="270.90" y="414.45" font-size="6.5" fill="#1a1a1a" text-anchor="end">2500</text>
<line x1="279.39" y1="498.59999999999997" x2="279.39" y2="500.60" stroke="#262626" stroke-width="1.2"/>
<text x="279.39" y="507.80" font-size="6.5" fill="#1a1a1a" text-anchor="middle">1980</text>
<line x1="301.57" y1="498.59999999999997" x2="301.57" y2="500.60" stroke="#262626" stroke-width="1.2"/>
<text x="301.57" y="507.80" font-size="6.5" fill="#1a1a1a" text-anchor="middle">1990</text>
<line x1="323.75" y1="498.59999999999997" x2="323.75" y2="500.60" stroke="#262626" stroke-width="1.2"/>
<text x="323.75" y="507.80" font-size="6.5" fill="#1a1a1a" text-anchor="middle">2000</text>
<line x1="345.94" y1="498.59999999999997" x2="345.94" y2="500.60" stroke="#262626" stroke-width="1.2"/>
<text x="345.94" y="507.80" font-size="6.5" fill="#1a1a1a" text-anchor="middle">2010</text>
<line x1="368.12" y1="498.59999999999997" x2="368.12" y2="500.60" stroke="#262626" stroke-width="1.2"/>
<text x="368.12" y="507.80" font-size="6.5" fill="#1a1a1a" text-anchor="middle">2020</text>
<g transform="translate(329.30,0) scale(0.97,1) translate(-329.30,0)">
<text x="329.30" y="395.50" font-size="6.4" fill="#1a1a1a" style="stroke-width:0.2px" text-anchor="middle">Governments that have declared</text>
<text x="329.30" y="403.80" font-size="6.4" fill="#1a1a1a" style="stroke-width:0.2px" text-anchor="middle">a climate emergency (#)</text>
</g>
<text x="276.60" y="401.50" font-size="9.3" fill="#1a1a1a">o.</text>
</g>
<text x="481.0" y="187.8" font-size="6.4" fill="#1a1a1a" text-anchor="middle">Oil</text>
<text x="481.0" y="208.6" font-size="6.4" fill="#1a1a1a" text-anchor="middle">Coal</text>
<text x="481.0" y="222.8" font-size="6.4" fill="#1a1a1a" text-anchor="middle">Gas</text>
<text x="481.3" y="254.3" font-size="6.4" fill="#1a1a1a" text-anchor="middle">Solar/wind</text>
<text x="264.2" y="514.3" font-size="7.7" fill="#1a1a1a" text-anchor="middle">Year</text>
</svg>
</body></html>
